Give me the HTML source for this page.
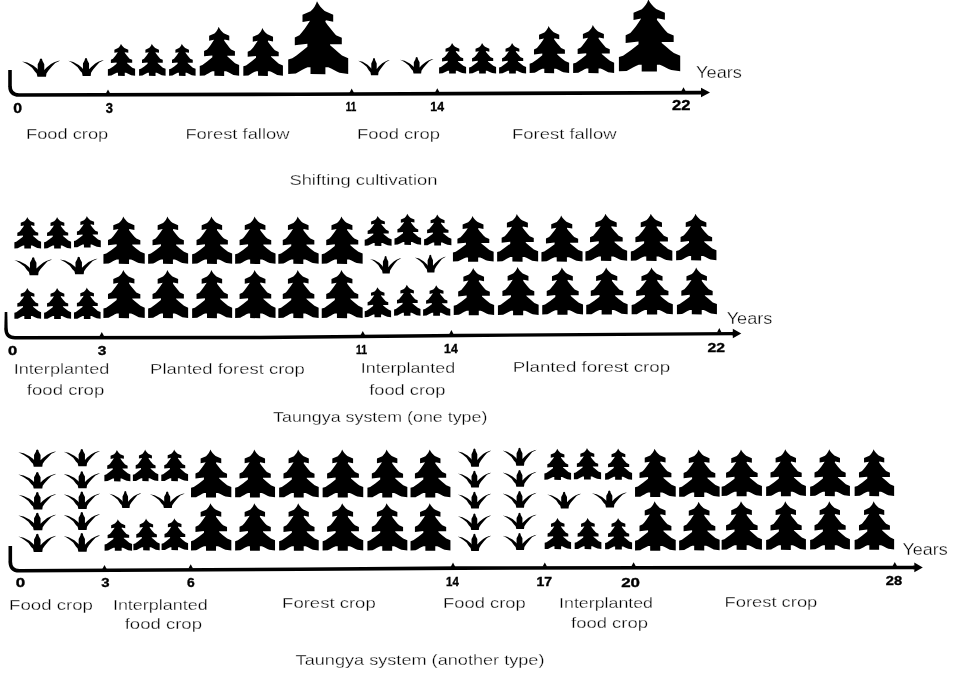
<!DOCTYPE html>
<html lang="en">
<head>
<meta charset="utf-8">
<title>Shifting cultivation and taungya systems</title>
<style>
html,body{margin:0;padding:0;background:#fff;}
body{width:953px;height:678px;overflow:hidden;}
svg{display:block;}
.t{font-family:"Liberation Sans",sans-serif;fill:#000;stroke:#fff;stroke-width:0.3px;}
.n{font-family:"Liberation Sans",sans-serif;font-weight:bold;fill:#000;stroke:#000;stroke-width:0.35px;}
</style>
</head>
<body>
<svg width="953" height="678" viewBox="0 0 953 678" fill="#000">
<rect x="0" y="0" width="953" height="678" fill="#fff"/>
<path transform="translate(41.00 58.80) scale(1.0243 1.0341)" d="M0,-0.3 L-1,0.2 L-1.4,2 L-3.2,5.2 L-3.2,10.6 L-3.9,9.5 L-7.6,6.5 L-13.4,3.6 L-18.5,2.5 L-16,3.7 L-12.9,5.5 L-8.7,8.7 L-6,12.4 L-4.2,14.2 L-3.5,17.3 L4.9,17.3 L5.3,14.2 L7.3,11.3 L10.6,7.5 L13.9,4 L17,2.6 L18.6,1.7 L16.5,2.1 L12.9,3.4 L9.7,5.1 L5.5,8.4 L3.2,10.8 L3.2,5.2 L1.4,2 L1,0.2 Z"/>
<path transform="translate(86.00 58.30) scale(0.9542 1.0227)" d="M0,-0.3 L-1,0.2 L-1.4,2 L-3.2,5.2 L-3.2,10.6 L-3.9,9.5 L-7.6,6.5 L-13.4,3.6 L-18.5,2.5 L-16,3.7 L-12.9,5.5 L-8.7,8.7 L-6,12.4 L-4.2,14.2 L-3.5,17.3 L4.9,17.3 L5.3,14.2 L7.3,11.3 L10.6,7.5 L13.9,4 L17,2.6 L18.6,1.7 L16.5,2.1 L12.9,3.4 L9.7,5.1 L5.5,8.4 L3.2,10.8 L3.2,5.2 L1.4,2 L1,0.2 Z"/>
<path transform="translate(121.40 43.70) scale(0.4533 0.4411)" d="M-1,0 C-2,3.5 -4,7 -7.4,10 L-15.5,13.5 L-15.5,20.8 L-8,19.4 C-11,24.5 -15,30 -18.6,34 L-23.2,36.2 L-23.2,44 L-10.6,42.6 L-10.6,45.4 C-15.5,49.5 -20.5,53.5 -25.7,57 L-29.8,58.2 L-29.8,72.6 L-22.2,72.3 C-18,70 -14,67.5 -10.4,66 L-7.5,66 L-7.5,72.8 L7.4,73 L7.4,66 L10.3,66 C14,67.5 18,70 21.5,71.5 L30.2,72.6 L30.2,57 L24,54.3 C19.5,50.5 15.5,47 12.1,44 L12.1,43 L23.8,43 L23.8,36.6 L18,34 C14.4,30 10.4,25 7.3,20.6 L7.9,19.1 L15.2,20.6 L15.2,13.5 L6.7,9.7 C3.5,7 0.5,3.5 -1,0 Z"/>
<path transform="translate(152.25 43.70) scale(0.4417 0.4411)" d="M-1,0 C-2,3.5 -4,7 -7.4,10 L-15.5,13.5 L-15.5,20.8 L-8,19.4 C-11,24.5 -15,30 -18.6,34 L-23.2,36.2 L-23.2,44 L-10.6,42.6 L-10.6,45.4 C-15.5,49.5 -20.5,53.5 -25.7,57 L-29.8,58.2 L-29.8,72.6 L-22.2,72.3 C-18,70 -14,67.5 -10.4,66 L-7.5,66 L-7.5,72.8 L7.4,73 L7.4,66 L10.3,66 C14,67.5 18,70 21.5,71.5 L30.2,72.6 L30.2,57 L24,54.3 C19.5,50.5 15.5,47 12.1,44 L12.1,43 L23.8,43 L23.8,36.6 L18,34 C14.4,30 10.4,25 7.3,20.6 L7.9,19.1 L15.2,20.6 L15.2,13.5 L6.7,9.7 C3.5,7 0.5,3.5 -1,0 Z"/>
<path transform="translate(182.25 43.70) scale(0.4417 0.4411)" d="M-1,0 C-2,3.5 -4,7 -7.4,10 L-15.5,13.5 L-15.5,20.8 L-8,19.4 C-11,24.5 -15,30 -18.6,34 L-23.2,36.2 L-23.2,44 L-10.6,42.6 L-10.6,45.4 C-15.5,49.5 -20.5,53.5 -25.7,57 L-29.8,58.2 L-29.8,72.6 L-22.2,72.3 C-18,70 -14,67.5 -10.4,66 L-7.5,66 L-7.5,72.8 L7.4,73 L7.4,66 L10.3,66 C14,67.5 18,70 21.5,71.5 L30.2,72.6 L30.2,57 L24,54.3 C19.5,50.5 15.5,47 12.1,44 L12.1,43 L23.8,43 L23.8,36.6 L18,34 C14.4,30 10.4,25 7.3,20.6 L7.9,19.1 L15.2,20.6 L15.2,13.5 L6.7,9.7 C3.5,7 0.5,3.5 -1,0 Z"/>
<path transform="translate(219.30 26.70) scale(0.6567 0.6740)" d="M-1,0 C-2,3.5 -4,7 -7.4,10 L-15.5,13.5 L-15.5,20.8 L-8,19.4 C-11,24.5 -15,30 -18.6,34 L-23.2,36.2 L-23.2,44 L-10.6,42.6 L-10.6,45.4 C-15.5,49.5 -20.5,53.5 -25.7,57 L-29.8,58.2 L-29.8,72.6 L-22.2,72.3 C-18,70 -14,67.5 -10.4,66 L-7.5,66 L-7.5,72.8 L7.4,73 L7.4,66 L10.3,66 C14,67.5 18,70 21.5,71.5 L30.2,72.6 L30.2,57 L24,54.3 C19.5,50.5 15.5,47 12.1,44 L12.1,43 L23.8,43 L23.8,36.6 L18,34 C14.4,30 10.4,25 7.3,20.6 L7.9,19.1 L15.2,20.6 L15.2,13.5 L6.7,9.7 C3.5,7 0.5,3.5 -1,0 Z"/>
<path transform="translate(263.00 28.00) scale(0.6600 0.6562)" d="M-1,0 C-2,3.5 -4,7 -7.4,10 L-15.5,13.5 L-15.5,20.8 L-8,19.4 C-11,24.5 -15,30 -18.6,34 L-23.2,36.2 L-23.2,44 L-10.6,42.6 L-10.6,45.4 C-15.5,49.5 -20.5,53.5 -25.7,57 L-29.8,58.2 L-29.8,72.6 L-22.2,72.3 C-18,70 -14,67.5 -10.4,66 L-7.5,66 L-7.5,72.8 L7.4,73 L7.4,66 L10.3,66 C14,67.5 18,70 21.5,71.5 L30.2,72.6 L30.2,57 L24,54.3 C19.5,50.5 15.5,47 12.1,44 L12.1,43 L23.8,43 L23.8,36.6 L18,34 C14.4,30 10.4,25 7.3,20.6 L7.9,19.1 L15.2,20.6 L15.2,13.5 L6.7,9.7 C3.5,7 0.5,3.5 -1,0 Z"/>
<path transform="translate(318.00 1.20) scale(1.0000 1.0014)" d="M-1,0 C-2,3.5 -4,7 -7.4,10 L-15.5,13.5 L-15.5,20.8 L-8,19.4 C-11,24.5 -15,30 -18.6,34 L-23.2,36.2 L-23.2,44 L-10.6,42.6 L-10.6,45.4 C-15.5,49.5 -20.5,53.5 -25.7,57 L-29.8,58.2 L-29.8,72.6 L-22.2,72.3 C-18,70 -14,67.5 -10.4,66 L-7.5,66 L-7.5,72.8 L7.4,73 L7.4,66 L10.3,66 C14,67.5 18,70 21.5,71.5 L30.2,72.6 L30.2,57 L24,54.3 C19.5,50.5 15.5,47 12.1,44 L12.1,43 L23.8,43 L23.8,36.6 L18,34 C14.4,30 10.4,25 7.3,20.6 L7.9,19.1 L15.2,20.6 L15.2,13.5 L6.7,9.7 C3.5,7 0.5,3.5 -1,0 Z"/>
<path transform="translate(374.00 58.30) scale(0.8491 0.9830)" d="M0,-0.3 L-1,0.2 L-1.4,2 L-3.2,5.2 L-3.2,10.6 L-3.9,9.5 L-7.6,6.5 L-13.4,3.6 L-18.5,2.5 L-16,3.7 L-12.9,5.5 L-8.7,8.7 L-6,12.4 L-4.2,14.2 L-3.5,17.3 L4.9,17.3 L5.3,14.2 L7.3,11.3 L10.6,7.5 L13.9,4 L17,2.6 L18.6,1.7 L16.5,2.1 L12.9,3.4 L9.7,5.1 L5.5,8.4 L3.2,10.8 L3.2,5.2 L1.4,2 L1,0.2 Z"/>
<path transform="translate(416.70 57.40) scale(0.9030 0.9318)" d="M0,-0.3 L-1,0.2 L-1.4,2 L-3.2,5.2 L-3.2,10.6 L-3.9,9.5 L-7.6,6.5 L-13.4,3.6 L-18.5,2.5 L-16,3.7 L-12.9,5.5 L-8.7,8.7 L-6,12.4 L-4.2,14.2 L-3.5,17.3 L4.9,17.3 L5.3,14.2 L7.3,11.3 L10.6,7.5 L13.9,4 L17,2.6 L18.6,1.7 L16.5,2.1 L12.9,3.4 L9.7,5.1 L5.5,8.4 L3.2,10.8 L3.2,5.2 L1.4,2 L1,0.2 Z"/>
<path transform="translate(452.50 43.00) scale(0.4500 0.4192)" d="M-1,0 C-2,3.5 -4,7 -7.4,10 L-15.5,13.5 L-15.5,20.8 L-8,19.4 C-11,24.5 -15,30 -18.6,34 L-23.2,36.2 L-23.2,44 L-10.6,42.6 L-10.6,45.4 C-15.5,49.5 -20.5,53.5 -25.7,57 L-29.8,58.2 L-29.8,72.6 L-22.2,72.3 C-18,70 -14,67.5 -10.4,66 L-7.5,66 L-7.5,72.8 L7.4,73 L7.4,66 L10.3,66 C14,67.5 18,70 21.5,71.5 L30.2,72.6 L30.2,57 L24,54.3 C19.5,50.5 15.5,47 12.1,44 L12.1,43 L23.8,43 L23.8,36.6 L18,34 C14.4,30 10.4,25 7.3,20.6 L7.9,19.1 L15.2,20.6 L15.2,13.5 L6.7,9.7 C3.5,7 0.5,3.5 -1,0 Z"/>
<path transform="translate(482.50 43.00) scale(0.4500 0.4192)" d="M-1,0 C-2,3.5 -4,7 -7.4,10 L-15.5,13.5 L-15.5,20.8 L-8,19.4 C-11,24.5 -15,30 -18.6,34 L-23.2,36.2 L-23.2,44 L-10.6,42.6 L-10.6,45.4 C-15.5,49.5 -20.5,53.5 -25.7,57 L-29.8,58.2 L-29.8,72.6 L-22.2,72.3 C-18,70 -14,67.5 -10.4,66 L-7.5,66 L-7.5,72.8 L7.4,73 L7.4,66 L10.3,66 C14,67.5 18,70 21.5,71.5 L30.2,72.6 L30.2,57 L24,54.3 C19.5,50.5 15.5,47 12.1,44 L12.1,43 L23.8,43 L23.8,36.6 L18,34 C14.4,30 10.4,25 7.3,20.6 L7.9,19.1 L15.2,20.6 L15.2,13.5 L6.7,9.7 C3.5,7 0.5,3.5 -1,0 Z"/>
<path transform="translate(512.50 43.00) scale(0.4500 0.4192)" d="M-1,0 C-2,3.5 -4,7 -7.4,10 L-15.5,13.5 L-15.5,20.8 L-8,19.4 C-11,24.5 -15,30 -18.6,34 L-23.2,36.2 L-23.2,44 L-10.6,42.6 L-10.6,45.4 C-15.5,49.5 -20.5,53.5 -25.7,57 L-29.8,58.2 L-29.8,72.6 L-22.2,72.3 C-18,70 -14,67.5 -10.4,66 L-7.5,66 L-7.5,72.8 L7.4,73 L7.4,66 L10.3,66 C14,67.5 18,70 21.5,71.5 L30.2,72.6 L30.2,57 L24,54.3 C19.5,50.5 15.5,47 12.1,44 L12.1,43 L23.8,43 L23.8,36.6 L18,34 C14.4,30 10.4,25 7.3,20.6 L7.9,19.1 L15.2,20.6 L15.2,13.5 L6.7,9.7 C3.5,7 0.5,3.5 -1,0 Z"/>
<path transform="translate(549.25 26.00) scale(0.6583 0.6466)" d="M-1,0 C-2,3.5 -4,7 -7.4,10 L-15.5,13.5 L-15.5,20.8 L-8,19.4 C-11,24.5 -15,30 -18.6,34 L-23.2,36.2 L-23.2,44 L-10.6,42.6 L-10.6,45.4 C-15.5,49.5 -20.5,53.5 -25.7,57 L-29.8,58.2 L-29.8,72.6 L-22.2,72.3 C-18,70 -14,67.5 -10.4,66 L-7.5,66 L-7.5,72.8 L7.4,73 L7.4,66 L10.3,66 C14,67.5 18,70 21.5,71.5 L30.2,72.6 L30.2,57 L24,54.3 C19.5,50.5 15.5,47 12.1,44 L12.1,43 L23.8,43 L23.8,36.6 L18,34 C14.4,30 10.4,25 7.3,20.6 L7.9,19.1 L15.2,20.6 L15.2,13.5 L6.7,9.7 C3.5,7 0.5,3.5 -1,0 Z"/>
<path transform="translate(593.50 25.00) scale(0.6833 0.6603)" d="M-1,0 C-2,3.5 -4,7 -7.4,10 L-15.5,13.5 L-15.5,20.8 L-8,19.4 C-11,24.5 -15,30 -18.6,34 L-23.2,36.2 L-23.2,44 L-10.6,42.6 L-10.6,45.4 C-15.5,49.5 -20.5,53.5 -25.7,57 L-29.8,58.2 L-29.8,72.6 L-22.2,72.3 C-18,70 -14,67.5 -10.4,66 L-7.5,66 L-7.5,72.8 L7.4,73 L7.4,66 L10.3,66 C14,67.5 18,70 21.5,71.5 L30.2,72.6 L30.2,57 L24,54.3 C19.5,50.5 15.5,47 12.1,44 L12.1,43 L23.8,43 L23.8,36.6 L18,34 C14.4,30 10.4,25 7.3,20.6 L7.9,19.1 L15.2,20.6 L15.2,13.5 L6.7,9.7 C3.5,7 0.5,3.5 -1,0 Z"/>
<path transform="translate(649.35 -0.60) scale(1.0217 0.9890)" d="M-1,0 C-2,3.5 -4,7 -7.4,10 L-15.5,13.5 L-15.5,20.8 L-8,19.4 C-11,24.5 -15,30 -18.6,34 L-23.2,36.2 L-23.2,44 L-10.6,42.6 L-10.6,45.4 C-15.5,49.5 -20.5,53.5 -25.7,57 L-29.8,58.2 L-29.8,72.6 L-22.2,72.3 C-18,70 -14,67.5 -10.4,66 L-7.5,66 L-7.5,72.8 L7.4,73 L7.4,66 L10.3,66 C14,67.5 18,70 21.5,71.5 L30.2,72.6 L30.2,57 L24,54.3 C19.5,50.5 15.5,47 12.1,44 L12.1,43 L23.8,43 L23.8,36.6 L18,34 C14.4,30 10.4,25 7.3,20.6 L7.9,19.1 L15.2,20.6 L15.2,13.5 L6.7,9.7 C3.5,7 0.5,3.5 -1,0 Z"/>
<path d="M8.20,70.0 L11.80,70.0 L11.80,86.5 L8.20,86.5 Z"/>
<path fill="none" stroke="#000" stroke-width="3.6" stroke-linejoin="round" d="M10.0,86.0 Q10.0,95.0 19.0,95.0 L19.0,95.0 L300.0,94.2 L702.0,92.6"/>
<path d="M710.0,92.5 L701.0,87.7 L701.0,97.3 Z"/>
<path fill="none" stroke="#000" stroke-width="3.6" d="M701.0,92.6 L702.0,92.5"/>
<path d="M105.7,93.8 L108.0,89.5 L110.3,93.8 Z"/>
<path d="M349.4,92.9 L351.7,88.6 L354.0,92.9 Z"/>
<path d="M435.0,92.6 L437.3,88.3 L439.6,92.6 Z"/>
<path d="M681.2,91.6 L683.5,87.3 L685.8,91.6 Z"/>
<text class="n" x="13.3" y="113.3" font-size="14" textLength="8.8" lengthAdjust="spacingAndGlyphs">0</text>
<text class="n" x="105.8" y="113.2" font-size="14" textLength="7.2" lengthAdjust="spacingAndGlyphs">3</text>
<text class="n" x="345.8" y="111.4" font-size="12.5" textLength="10.5" lengthAdjust="spacingAndGlyphs">11</text>
<text class="n" x="430.3" y="111.4" font-size="13" textLength="13.7" lengthAdjust="spacingAndGlyphs">14</text>
<text class="n" x="672.0" y="109.8" font-size="14" textLength="18.4" lengthAdjust="spacingAndGlyphs">22</text>
<text class="t" x="26.0" y="138.6" font-size="15" textLength="82.2" lengthAdjust="spacingAndGlyphs">Food crop</text>
<text class="t" x="185.4" y="139.0" font-size="15" textLength="104.1" lengthAdjust="spacingAndGlyphs">Forest fallow</text>
<text class="t" x="357.1" y="139.0" font-size="15" textLength="82.8" lengthAdjust="spacingAndGlyphs">Food crop</text>
<text class="t" x="512.1" y="138.7" font-size="15" textLength="104.4" lengthAdjust="spacingAndGlyphs">Forest fallow</text>
<text class="t" x="289.4" y="185.0" font-size="15" textLength="148.1" lengthAdjust="spacingAndGlyphs">Shifting cultivation</text>
<text class="t" x="696.1" y="78.0" font-size="16" textLength="45.8" lengthAdjust="spacingAndGlyphs">Years</text>
<path transform="translate(27.65 217.00) scale(0.4450 0.4329)" d="M-1,0 C-2,3.5 -4,7 -7.4,10 L-15.5,13.5 L-15.5,20.8 L-8,19.4 C-11,24.5 -15,30 -18.6,34 L-23.2,36.2 L-23.2,44 L-10.6,42.6 L-10.6,45.4 C-15.5,49.5 -20.5,53.5 -25.7,57 L-29.8,58.2 L-29.8,72.6 L-22.2,72.3 C-18,70 -14,67.5 -10.4,66 L-7.5,66 L-7.5,72.8 L7.4,73 L7.4,66 L10.3,66 C14,67.5 18,70 21.5,71.5 L30.2,72.6 L30.2,57 L24,54.3 C19.5,50.5 15.5,47 12.1,44 L12.1,43 L23.8,43 L23.8,36.6 L18,34 C14.4,30 10.4,25 7.3,20.6 L7.9,19.1 L15.2,20.6 L15.2,13.5 L6.7,9.7 C3.5,7 0.5,3.5 -1,0 Z"/>
<path transform="translate(57.50 217.00) scale(0.4500 0.4329)" d="M-1,0 C-2,3.5 -4,7 -7.4,10 L-15.5,13.5 L-15.5,20.8 L-8,19.4 C-11,24.5 -15,30 -18.6,34 L-23.2,36.2 L-23.2,44 L-10.6,42.6 L-10.6,45.4 C-15.5,49.5 -20.5,53.5 -25.7,57 L-29.8,58.2 L-29.8,72.6 L-22.2,72.3 C-18,70 -14,67.5 -10.4,66 L-7.5,66 L-7.5,72.8 L7.4,73 L7.4,66 L10.3,66 C14,67.5 18,70 21.5,71.5 L30.2,72.6 L30.2,57 L24,54.3 C19.5,50.5 15.5,47 12.1,44 L12.1,43 L23.8,43 L23.8,36.6 L18,34 C14.4,30 10.4,25 7.3,20.6 L7.9,19.1 L15.2,20.6 L15.2,13.5 L6.7,9.7 C3.5,7 0.5,3.5 -1,0 Z"/>
<path transform="translate(87.30 216.00) scale(0.4467 0.4315)" d="M-1,0 C-2,3.5 -4,7 -7.4,10 L-15.5,13.5 L-15.5,20.8 L-8,19.4 C-11,24.5 -15,30 -18.6,34 L-23.2,36.2 L-23.2,44 L-10.6,42.6 L-10.6,45.4 C-15.5,49.5 -20.5,53.5 -25.7,57 L-29.8,58.2 L-29.8,72.6 L-22.2,72.3 C-18,70 -14,67.5 -10.4,66 L-7.5,66 L-7.5,72.8 L7.4,73 L7.4,66 L10.3,66 C14,67.5 18,70 21.5,71.5 L30.2,72.6 L30.2,57 L24,54.3 C19.5,50.5 15.5,47 12.1,44 L12.1,43 L23.8,43 L23.8,36.6 L18,34 C14.4,30 10.4,25 7.3,20.6 L7.9,19.1 L15.2,20.6 L15.2,13.5 L6.7,9.7 C3.5,7 0.5,3.5 -1,0 Z"/>
<path transform="translate(27.65 287.90) scale(0.4450 0.4260)" d="M-1,0 C-2,3.5 -4,7 -7.4,10 L-15.5,13.5 L-15.5,20.8 L-8,19.4 C-11,24.5 -15,30 -18.6,34 L-23.2,36.2 L-23.2,44 L-10.6,42.6 L-10.6,45.4 C-15.5,49.5 -20.5,53.5 -25.7,57 L-29.8,58.2 L-29.8,72.6 L-22.2,72.3 C-18,70 -14,67.5 -10.4,66 L-7.5,66 L-7.5,72.8 L7.4,73 L7.4,66 L10.3,66 C14,67.5 18,70 21.5,71.5 L30.2,72.6 L30.2,57 L24,54.3 C19.5,50.5 15.5,47 12.1,44 L12.1,43 L23.8,43 L23.8,36.6 L18,34 C14.4,30 10.4,25 7.3,20.6 L7.9,19.1 L15.2,20.6 L15.2,13.5 L6.7,9.7 C3.5,7 0.5,3.5 -1,0 Z"/>
<path transform="translate(57.50 287.90) scale(0.4500 0.4260)" d="M-1,0 C-2,3.5 -4,7 -7.4,10 L-15.5,13.5 L-15.5,20.8 L-8,19.4 C-11,24.5 -15,30 -18.6,34 L-23.2,36.2 L-23.2,44 L-10.6,42.6 L-10.6,45.4 C-15.5,49.5 -20.5,53.5 -25.7,57 L-29.8,58.2 L-29.8,72.6 L-22.2,72.3 C-18,70 -14,67.5 -10.4,66 L-7.5,66 L-7.5,72.8 L7.4,73 L7.4,66 L10.3,66 C14,67.5 18,70 21.5,71.5 L30.2,72.6 L30.2,57 L24,54.3 C19.5,50.5 15.5,47 12.1,44 L12.1,43 L23.8,43 L23.8,36.6 L18,34 C14.4,30 10.4,25 7.3,20.6 L7.9,19.1 L15.2,20.6 L15.2,13.5 L6.7,9.7 C3.5,7 0.5,3.5 -1,0 Z"/>
<path transform="translate(87.20 287.50) scale(0.4433 0.4315)" d="M-1,0 C-2,3.5 -4,7 -7.4,10 L-15.5,13.5 L-15.5,20.8 L-8,19.4 C-11,24.5 -15,30 -18.6,34 L-23.2,36.2 L-23.2,44 L-10.6,42.6 L-10.6,45.4 C-15.5,49.5 -20.5,53.5 -25.7,57 L-29.8,58.2 L-29.8,72.6 L-22.2,72.3 C-18,70 -14,67.5 -10.4,66 L-7.5,66 L-7.5,72.8 L7.4,73 L7.4,66 L10.3,66 C14,67.5 18,70 21.5,71.5 L30.2,72.6 L30.2,57 L24,54.3 C19.5,50.5 15.5,47 12.1,44 L12.1,43 L23.8,43 L23.8,36.6 L18,34 C14.4,30 10.4,25 7.3,20.6 L7.9,19.1 L15.2,20.6 L15.2,13.5 L6.7,9.7 C3.5,7 0.5,3.5 -1,0 Z"/>
<path transform="translate(33.20 257.50) scale(1.0162 1.0284)" d="M0,-0.3 L-1,0.2 L-1.4,2 L-3.2,5.2 L-3.2,10.6 L-3.9,9.5 L-7.6,6.5 L-13.4,3.6 L-18.5,2.5 L-16,3.7 L-12.9,5.5 L-8.7,8.7 L-6,12.4 L-4.2,14.2 L-3.5,17.3 L4.9,17.3 L5.3,14.2 L7.3,11.3 L10.6,7.5 L13.9,4 L17,2.6 L18.6,1.7 L16.5,2.1 L12.9,3.4 L9.7,5.1 L5.5,8.4 L3.2,10.8 L3.2,5.2 L1.4,2 L1,0.2 Z"/>
<path transform="translate(78.70 257.00) scale(1.0135 1.0000)" d="M0,-0.3 L-1,0.2 L-1.4,2 L-3.2,5.2 L-3.2,10.6 L-3.9,9.5 L-7.6,6.5 L-13.4,3.6 L-18.5,2.5 L-16,3.7 L-12.9,5.5 L-8.7,8.7 L-6,12.4 L-4.2,14.2 L-3.5,17.3 L4.9,17.3 L5.3,14.2 L7.3,11.3 L10.6,7.5 L13.9,4 L17,2.6 L18.6,1.7 L16.5,2.1 L12.9,3.4 L9.7,5.1 L5.5,8.4 L3.2,10.8 L3.2,5.2 L1.4,2 L1,0.2 Z"/>
<path transform="translate(123.95 216.50) scale(0.6883 0.6507)" d="M-1,0 C-2,3.5 -4,7 -7.4,10 L-15.5,13.5 L-15.5,20.8 L-8,19.4 C-11,24.5 -15,30 -18.6,34 L-23.2,36.2 L-23.2,44 L-10.6,42.6 L-10.6,45.4 C-15.5,49.5 -20.5,53.5 -25.7,57 L-29.8,58.2 L-29.8,72.6 L-22.2,72.3 C-18,70 -14,67.5 -10.4,66 L-7.5,66 L-7.5,72.8 L7.4,73 L7.4,66 L10.3,66 C14,67.5 18,70 21.5,71.5 L30.2,72.6 L30.2,57 L24,54.3 C19.5,50.5 15.5,47 12.1,44 L12.1,43 L23.8,43 L23.8,36.6 L18,34 C14.4,30 10.4,25 7.3,20.6 L7.9,19.1 L15.2,20.6 L15.2,13.5 L6.7,9.7 C3.5,7 0.5,3.5 -1,0 Z"/>
<path transform="translate(123.95 270.00) scale(0.6883 0.6603)" d="M-1,0 C-2,3.5 -4,7 -7.4,10 L-15.5,13.5 L-15.5,20.8 L-8,19.4 C-11,24.5 -15,30 -18.6,34 L-23.2,36.2 L-23.2,44 L-10.6,42.6 L-10.6,45.4 C-15.5,49.5 -20.5,53.5 -25.7,57 L-29.8,58.2 L-29.8,72.6 L-22.2,72.3 C-18,70 -14,67.5 -10.4,66 L-7.5,66 L-7.5,72.8 L7.4,73 L7.4,66 L10.3,66 C14,67.5 18,70 21.5,71.5 L30.2,72.6 L30.2,57 L24,54.3 C19.5,50.5 15.5,47 12.1,44 L12.1,43 L23.8,43 L23.8,36.6 L18,34 C14.4,30 10.4,25 7.3,20.6 L7.9,19.1 L15.2,20.6 L15.2,13.5 L6.7,9.7 C3.5,7 0.5,3.5 -1,0 Z"/>
<path transform="translate(168.00 216.50) scale(0.6667 0.6507)" d="M-1,0 C-2,3.5 -4,7 -7.4,10 L-15.5,13.5 L-15.5,20.8 L-8,19.4 C-11,24.5 -15,30 -18.6,34 L-23.2,36.2 L-23.2,44 L-10.6,42.6 L-10.6,45.4 C-15.5,49.5 -20.5,53.5 -25.7,57 L-29.8,58.2 L-29.8,72.6 L-22.2,72.3 C-18,70 -14,67.5 -10.4,66 L-7.5,66 L-7.5,72.8 L7.4,73 L7.4,66 L10.3,66 C14,67.5 18,70 21.5,71.5 L30.2,72.6 L30.2,57 L24,54.3 C19.5,50.5 15.5,47 12.1,44 L12.1,43 L23.8,43 L23.8,36.6 L18,34 C14.4,30 10.4,25 7.3,20.6 L7.9,19.1 L15.2,20.6 L15.2,13.5 L6.7,9.7 C3.5,7 0.5,3.5 -1,0 Z"/>
<path transform="translate(168.00 270.00) scale(0.6667 0.6603)" d="M-1,0 C-2,3.5 -4,7 -7.4,10 L-15.5,13.5 L-15.5,20.8 L-8,19.4 C-11,24.5 -15,30 -18.6,34 L-23.2,36.2 L-23.2,44 L-10.6,42.6 L-10.6,45.4 C-15.5,49.5 -20.5,53.5 -25.7,57 L-29.8,58.2 L-29.8,72.6 L-22.2,72.3 C-18,70 -14,67.5 -10.4,66 L-7.5,66 L-7.5,72.8 L7.4,73 L7.4,66 L10.3,66 C14,67.5 18,70 21.5,71.5 L30.2,72.6 L30.2,57 L24,54.3 C19.5,50.5 15.5,47 12.1,44 L12.1,43 L23.8,43 L23.8,36.6 L18,34 C14.4,30 10.4,25 7.3,20.6 L7.9,19.1 L15.2,20.6 L15.2,13.5 L6.7,9.7 C3.5,7 0.5,3.5 -1,0 Z"/>
<path transform="translate(212.00 216.50) scale(0.6667 0.6507)" d="M-1,0 C-2,3.5 -4,7 -7.4,10 L-15.5,13.5 L-15.5,20.8 L-8,19.4 C-11,24.5 -15,30 -18.6,34 L-23.2,36.2 L-23.2,44 L-10.6,42.6 L-10.6,45.4 C-15.5,49.5 -20.5,53.5 -25.7,57 L-29.8,58.2 L-29.8,72.6 L-22.2,72.3 C-18,70 -14,67.5 -10.4,66 L-7.5,66 L-7.5,72.8 L7.4,73 L7.4,66 L10.3,66 C14,67.5 18,70 21.5,71.5 L30.2,72.6 L30.2,57 L24,54.3 C19.5,50.5 15.5,47 12.1,44 L12.1,43 L23.8,43 L23.8,36.6 L18,34 C14.4,30 10.4,25 7.3,20.6 L7.9,19.1 L15.2,20.6 L15.2,13.5 L6.7,9.7 C3.5,7 0.5,3.5 -1,0 Z"/>
<path transform="translate(212.00 270.00) scale(0.6667 0.6603)" d="M-1,0 C-2,3.5 -4,7 -7.4,10 L-15.5,13.5 L-15.5,20.8 L-8,19.4 C-11,24.5 -15,30 -18.6,34 L-23.2,36.2 L-23.2,44 L-10.6,42.6 L-10.6,45.4 C-15.5,49.5 -20.5,53.5 -25.7,57 L-29.8,58.2 L-29.8,72.6 L-22.2,72.3 C-18,70 -14,67.5 -10.4,66 L-7.5,66 L-7.5,72.8 L7.4,73 L7.4,66 L10.3,66 C14,67.5 18,70 21.5,71.5 L30.2,72.6 L30.2,57 L24,54.3 C19.5,50.5 15.5,47 12.1,44 L12.1,43 L23.8,43 L23.8,36.6 L18,34 C14.4,30 10.4,25 7.3,20.6 L7.9,19.1 L15.2,20.6 L15.2,13.5 L6.7,9.7 C3.5,7 0.5,3.5 -1,0 Z"/>
<path transform="translate(255.20 216.50) scale(0.6733 0.6507)" d="M-1,0 C-2,3.5 -4,7 -7.4,10 L-15.5,13.5 L-15.5,20.8 L-8,19.4 C-11,24.5 -15,30 -18.6,34 L-23.2,36.2 L-23.2,44 L-10.6,42.6 L-10.6,45.4 C-15.5,49.5 -20.5,53.5 -25.7,57 L-29.8,58.2 L-29.8,72.6 L-22.2,72.3 C-18,70 -14,67.5 -10.4,66 L-7.5,66 L-7.5,72.8 L7.4,73 L7.4,66 L10.3,66 C14,67.5 18,70 21.5,71.5 L30.2,72.6 L30.2,57 L24,54.3 C19.5,50.5 15.5,47 12.1,44 L12.1,43 L23.8,43 L23.8,36.6 L18,34 C14.4,30 10.4,25 7.3,20.6 L7.9,19.1 L15.2,20.6 L15.2,13.5 L6.7,9.7 C3.5,7 0.5,3.5 -1,0 Z"/>
<path transform="translate(255.20 270.00) scale(0.6733 0.6603)" d="M-1,0 C-2,3.5 -4,7 -7.4,10 L-15.5,13.5 L-15.5,20.8 L-8,19.4 C-11,24.5 -15,30 -18.6,34 L-23.2,36.2 L-23.2,44 L-10.6,42.6 L-10.6,45.4 C-15.5,49.5 -20.5,53.5 -25.7,57 L-29.8,58.2 L-29.8,72.6 L-22.2,72.3 C-18,70 -14,67.5 -10.4,66 L-7.5,66 L-7.5,72.8 L7.4,73 L7.4,66 L10.3,66 C14,67.5 18,70 21.5,71.5 L30.2,72.6 L30.2,57 L24,54.3 C19.5,50.5 15.5,47 12.1,44 L12.1,43 L23.8,43 L23.8,36.6 L18,34 C14.4,30 10.4,25 7.3,20.6 L7.9,19.1 L15.2,20.6 L15.2,13.5 L6.7,9.7 C3.5,7 0.5,3.5 -1,0 Z"/>
<path transform="translate(298.35 216.50) scale(0.6717 0.6507)" d="M-1,0 C-2,3.5 -4,7 -7.4,10 L-15.5,13.5 L-15.5,20.8 L-8,19.4 C-11,24.5 -15,30 -18.6,34 L-23.2,36.2 L-23.2,44 L-10.6,42.6 L-10.6,45.4 C-15.5,49.5 -20.5,53.5 -25.7,57 L-29.8,58.2 L-29.8,72.6 L-22.2,72.3 C-18,70 -14,67.5 -10.4,66 L-7.5,66 L-7.5,72.8 L7.4,73 L7.4,66 L10.3,66 C14,67.5 18,70 21.5,71.5 L30.2,72.6 L30.2,57 L24,54.3 C19.5,50.5 15.5,47 12.1,44 L12.1,43 L23.8,43 L23.8,36.6 L18,34 C14.4,30 10.4,25 7.3,20.6 L7.9,19.1 L15.2,20.6 L15.2,13.5 L6.7,9.7 C3.5,7 0.5,3.5 -1,0 Z"/>
<path transform="translate(298.35 270.00) scale(0.6717 0.6603)" d="M-1,0 C-2,3.5 -4,7 -7.4,10 L-15.5,13.5 L-15.5,20.8 L-8,19.4 C-11,24.5 -15,30 -18.6,34 L-23.2,36.2 L-23.2,44 L-10.6,42.6 L-10.6,45.4 C-15.5,49.5 -20.5,53.5 -25.7,57 L-29.8,58.2 L-29.8,72.6 L-22.2,72.3 C-18,70 -14,67.5 -10.4,66 L-7.5,66 L-7.5,72.8 L7.4,73 L7.4,66 L10.3,66 C14,67.5 18,70 21.5,71.5 L30.2,72.6 L30.2,57 L24,54.3 C19.5,50.5 15.5,47 12.1,44 L12.1,43 L23.8,43 L23.8,36.6 L18,34 C14.4,30 10.4,25 7.3,20.6 L7.9,19.1 L15.2,20.6 L15.2,13.5 L6.7,9.7 C3.5,7 0.5,3.5 -1,0 Z"/>
<path transform="translate(342.05 216.50) scale(0.6817 0.6507)" d="M-1,0 C-2,3.5 -4,7 -7.4,10 L-15.5,13.5 L-15.5,20.8 L-8,19.4 C-11,24.5 -15,30 -18.6,34 L-23.2,36.2 L-23.2,44 L-10.6,42.6 L-10.6,45.4 C-15.5,49.5 -20.5,53.5 -25.7,57 L-29.8,58.2 L-29.8,72.6 L-22.2,72.3 C-18,70 -14,67.5 -10.4,66 L-7.5,66 L-7.5,72.8 L7.4,73 L7.4,66 L10.3,66 C14,67.5 18,70 21.5,71.5 L30.2,72.6 L30.2,57 L24,54.3 C19.5,50.5 15.5,47 12.1,44 L12.1,43 L23.8,43 L23.8,36.6 L18,34 C14.4,30 10.4,25 7.3,20.6 L7.9,19.1 L15.2,20.6 L15.2,13.5 L6.7,9.7 C3.5,7 0.5,3.5 -1,0 Z"/>
<path transform="translate(342.05 270.00) scale(0.6817 0.6603)" d="M-1,0 C-2,3.5 -4,7 -7.4,10 L-15.5,13.5 L-15.5,20.8 L-8,19.4 C-11,24.5 -15,30 -18.6,34 L-23.2,36.2 L-23.2,44 L-10.6,42.6 L-10.6,45.4 C-15.5,49.5 -20.5,53.5 -25.7,57 L-29.8,58.2 L-29.8,72.6 L-22.2,72.3 C-18,70 -14,67.5 -10.4,66 L-7.5,66 L-7.5,72.8 L7.4,73 L7.4,66 L10.3,66 C14,67.5 18,70 21.5,71.5 L30.2,72.6 L30.2,57 L24,54.3 C19.5,50.5 15.5,47 12.1,44 L12.1,43 L23.8,43 L23.8,36.6 L18,34 C14.4,30 10.4,25 7.3,20.6 L7.9,19.1 L15.2,20.6 L15.2,13.5 L6.7,9.7 C3.5,7 0.5,3.5 -1,0 Z"/>
<path transform="translate(378.05 215.90) scale(0.4483 0.4110)" d="M-1,0 C-2,3.5 -4,7 -7.4,10 L-15.5,13.5 L-15.5,20.8 L-8,19.4 C-11,24.5 -15,30 -18.6,34 L-23.2,36.2 L-23.2,44 L-10.6,42.6 L-10.6,45.4 C-15.5,49.5 -20.5,53.5 -25.7,57 L-29.8,58.2 L-29.8,72.6 L-22.2,72.3 C-18,70 -14,67.5 -10.4,66 L-7.5,66 L-7.5,72.8 L7.4,73 L7.4,66 L10.3,66 C14,67.5 18,70 21.5,71.5 L30.2,72.6 L30.2,57 L24,54.3 C19.5,50.5 15.5,47 12.1,44 L12.1,43 L23.8,43 L23.8,36.6 L18,34 C14.4,30 10.4,25 7.3,20.6 L7.9,19.1 L15.2,20.6 L15.2,13.5 L6.7,9.7 C3.5,7 0.5,3.5 -1,0 Z"/>
<path transform="translate(407.70 213.80) scale(0.4433 0.4260)" d="M-1,0 C-2,3.5 -4,7 -7.4,10 L-15.5,13.5 L-15.5,20.8 L-8,19.4 C-11,24.5 -15,30 -18.6,34 L-23.2,36.2 L-23.2,44 L-10.6,42.6 L-10.6,45.4 C-15.5,49.5 -20.5,53.5 -25.7,57 L-29.8,58.2 L-29.8,72.6 L-22.2,72.3 C-18,70 -14,67.5 -10.4,66 L-7.5,66 L-7.5,72.8 L7.4,73 L7.4,66 L10.3,66 C14,67.5 18,70 21.5,71.5 L30.2,72.6 L30.2,57 L24,54.3 C19.5,50.5 15.5,47 12.1,44 L12.1,43 L23.8,43 L23.8,36.6 L18,34 C14.4,30 10.4,25 7.3,20.6 L7.9,19.1 L15.2,20.6 L15.2,13.5 L6.7,9.7 C3.5,7 0.5,3.5 -1,0 Z"/>
<path transform="translate(437.65 214.40) scale(0.4550 0.4260)" d="M-1,0 C-2,3.5 -4,7 -7.4,10 L-15.5,13.5 L-15.5,20.8 L-8,19.4 C-11,24.5 -15,30 -18.6,34 L-23.2,36.2 L-23.2,44 L-10.6,42.6 L-10.6,45.4 C-15.5,49.5 -20.5,53.5 -25.7,57 L-29.8,58.2 L-29.8,72.6 L-22.2,72.3 C-18,70 -14,67.5 -10.4,66 L-7.5,66 L-7.5,72.8 L7.4,73 L7.4,66 L10.3,66 C14,67.5 18,70 21.5,71.5 L30.2,72.6 L30.2,57 L24,54.3 C19.5,50.5 15.5,47 12.1,44 L12.1,43 L23.8,43 L23.8,36.6 L18,34 C14.4,30 10.4,25 7.3,20.6 L7.9,19.1 L15.2,20.6 L15.2,13.5 L6.7,9.7 C3.5,7 0.5,3.5 -1,0 Z"/>
<path transform="translate(377.80 287.30) scale(0.4400 0.4110)" d="M-1,0 C-2,3.5 -4,7 -7.4,10 L-15.5,13.5 L-15.5,20.8 L-8,19.4 C-11,24.5 -15,30 -18.6,34 L-23.2,36.2 L-23.2,44 L-10.6,42.6 L-10.6,45.4 C-15.5,49.5 -20.5,53.5 -25.7,57 L-29.8,58.2 L-29.8,72.6 L-22.2,72.3 C-18,70 -14,67.5 -10.4,66 L-7.5,66 L-7.5,72.8 L7.4,73 L7.4,66 L10.3,66 C14,67.5 18,70 21.5,71.5 L30.2,72.6 L30.2,57 L24,54.3 C19.5,50.5 15.5,47 12.1,44 L12.1,43 L23.8,43 L23.8,36.6 L18,34 C14.4,30 10.4,25 7.3,20.6 L7.9,19.1 L15.2,20.6 L15.2,13.5 L6.7,9.7 C3.5,7 0.5,3.5 -1,0 Z"/>
<path transform="translate(407.20 284.70) scale(0.4400 0.4260)" d="M-1,0 C-2,3.5 -4,7 -7.4,10 L-15.5,13.5 L-15.5,20.8 L-8,19.4 C-11,24.5 -15,30 -18.6,34 L-23.2,36.2 L-23.2,44 L-10.6,42.6 L-10.6,45.4 C-15.5,49.5 -20.5,53.5 -25.7,57 L-29.8,58.2 L-29.8,72.6 L-22.2,72.3 C-18,70 -14,67.5 -10.4,66 L-7.5,66 L-7.5,72.8 L7.4,73 L7.4,66 L10.3,66 C14,67.5 18,70 21.5,71.5 L30.2,72.6 L30.2,57 L24,54.3 C19.5,50.5 15.5,47 12.1,44 L12.1,43 L23.8,43 L23.8,36.6 L18,34 C14.4,30 10.4,25 7.3,20.6 L7.9,19.1 L15.2,20.6 L15.2,13.5 L6.7,9.7 C3.5,7 0.5,3.5 -1,0 Z"/>
<path transform="translate(436.60 285.20) scale(0.4533 0.4192)" d="M-1,0 C-2,3.5 -4,7 -7.4,10 L-15.5,13.5 L-15.5,20.8 L-8,19.4 C-11,24.5 -15,30 -18.6,34 L-23.2,36.2 L-23.2,44 L-10.6,42.6 L-10.6,45.4 C-15.5,49.5 -20.5,53.5 -25.7,57 L-29.8,58.2 L-29.8,72.6 L-22.2,72.3 C-18,70 -14,67.5 -10.4,66 L-7.5,66 L-7.5,72.8 L7.4,73 L7.4,66 L10.3,66 C14,67.5 18,70 21.5,71.5 L30.2,72.6 L30.2,57 L24,54.3 C19.5,50.5 15.5,47 12.1,44 L12.1,43 L23.8,43 L23.8,36.6 L18,34 C14.4,30 10.4,25 7.3,20.6 L7.9,19.1 L15.2,20.6 L15.2,13.5 L6.7,9.7 C3.5,7 0.5,3.5 -1,0 Z"/>
<path transform="translate(385.60 256.40) scale(0.8410 0.9943)" d="M0,-0.3 L-1,0.2 L-1.4,2 L-3.2,5.2 L-3.2,10.6 L-3.9,9.5 L-7.6,6.5 L-13.4,3.6 L-18.5,2.5 L-16,3.7 L-12.9,5.5 L-8.7,8.7 L-6,12.4 L-4.2,14.2 L-3.5,17.3 L4.9,17.3 L5.3,14.2 L7.3,11.3 L10.6,7.5 L13.9,4 L17,2.6 L18.6,1.7 L16.5,2.1 L12.9,3.4 L9.7,5.1 L5.5,8.4 L3.2,10.8 L3.2,5.2 L1.4,2 L1,0.2 Z"/>
<path transform="translate(430.30 255.00) scale(0.8356 1.0057)" d="M0,-0.3 L-1,0.2 L-1.4,2 L-3.2,5.2 L-3.2,10.6 L-3.9,9.5 L-7.6,6.5 L-13.4,3.6 L-18.5,2.5 L-16,3.7 L-12.9,5.5 L-8.7,8.7 L-6,12.4 L-4.2,14.2 L-3.5,17.3 L4.9,17.3 L5.3,14.2 L7.3,11.3 L10.6,7.5 L13.9,4 L17,2.6 L18.6,1.7 L16.5,2.1 L12.9,3.4 L9.7,5.1 L5.5,8.4 L3.2,10.8 L3.2,5.2 L1.4,2 L1,0.2 Z"/>
<path transform="translate(473.15 216.00) scale(0.6783 0.6274)" d="M-1,0 C-2,3.5 -4,7 -7.4,10 L-15.5,13.5 L-15.5,20.8 L-8,19.4 C-11,24.5 -15,30 -18.6,34 L-23.2,36.2 L-23.2,44 L-10.6,42.6 L-10.6,45.4 C-15.5,49.5 -20.5,53.5 -25.7,57 L-29.8,58.2 L-29.8,72.6 L-22.2,72.3 C-18,70 -14,67.5 -10.4,66 L-7.5,66 L-7.5,72.8 L7.4,73 L7.4,66 L10.3,66 C14,67.5 18,70 21.5,71.5 L30.2,72.6 L30.2,57 L24,54.3 C19.5,50.5 15.5,47 12.1,44 L12.1,43 L23.8,43 L23.8,36.6 L18,34 C14.4,30 10.4,25 7.3,20.6 L7.9,19.1 L15.2,20.6 L15.2,13.5 L6.7,9.7 C3.5,7 0.5,3.5 -1,0 Z"/>
<path transform="translate(473.80 268.00) scale(0.6733 0.6479)" d="M-1,0 C-2,3.5 -4,7 -7.4,10 L-15.5,13.5 L-15.5,20.8 L-8,19.4 C-11,24.5 -15,30 -18.6,34 L-23.2,36.2 L-23.2,44 L-10.6,42.6 L-10.6,45.4 C-15.5,49.5 -20.5,53.5 -25.7,57 L-29.8,58.2 L-29.8,72.6 L-22.2,72.3 C-18,70 -14,67.5 -10.4,66 L-7.5,66 L-7.5,72.8 L7.4,73 L7.4,66 L10.3,66 C14,67.5 18,70 21.5,71.5 L30.2,72.6 L30.2,57 L24,54.3 C19.5,50.5 15.5,47 12.1,44 L12.1,43 L23.8,43 L23.8,36.6 L18,34 C14.4,30 10.4,25 7.3,20.6 L7.9,19.1 L15.2,20.6 L15.2,13.5 L6.7,9.7 C3.5,7 0.5,3.5 -1,0 Z"/>
<path transform="translate(517.50 214.00) scale(0.6833 0.6534)" d="M-1,0 C-2,3.5 -4,7 -7.4,10 L-15.5,13.5 L-15.5,20.8 L-8,19.4 C-11,24.5 -15,30 -18.6,34 L-23.2,36.2 L-23.2,44 L-10.6,42.6 L-10.6,45.4 C-15.5,49.5 -20.5,53.5 -25.7,57 L-29.8,58.2 L-29.8,72.6 L-22.2,72.3 C-18,70 -14,67.5 -10.4,66 L-7.5,66 L-7.5,72.8 L7.4,73 L7.4,66 L10.3,66 C14,67.5 18,70 21.5,71.5 L30.2,72.6 L30.2,57 L24,54.3 C19.5,50.5 15.5,47 12.1,44 L12.1,43 L23.8,43 L23.8,36.6 L18,34 C14.4,30 10.4,25 7.3,20.6 L7.9,19.1 L15.2,20.6 L15.2,13.5 L6.7,9.7 C3.5,7 0.5,3.5 -1,0 Z"/>
<path transform="translate(518.15 267.00) scale(0.6783 0.6616)" d="M-1,0 C-2,3.5 -4,7 -7.4,10 L-15.5,13.5 L-15.5,20.8 L-8,19.4 C-11,24.5 -15,30 -18.6,34 L-23.2,36.2 L-23.2,44 L-10.6,42.6 L-10.6,45.4 C-15.5,49.5 -20.5,53.5 -25.7,57 L-29.8,58.2 L-29.8,72.6 L-22.2,72.3 C-18,70 -14,67.5 -10.4,66 L-7.5,66 L-7.5,72.8 L7.4,73 L7.4,66 L10.3,66 C14,67.5 18,70 21.5,71.5 L30.2,72.6 L30.2,57 L24,54.3 C19.5,50.5 15.5,47 12.1,44 L12.1,43 L23.8,43 L23.8,36.6 L18,34 C14.4,30 10.4,25 7.3,20.6 L7.9,19.1 L15.2,20.6 L15.2,13.5 L6.7,9.7 C3.5,7 0.5,3.5 -1,0 Z"/>
<path transform="translate(561.85 215.60) scale(0.6850 0.6315)" d="M-1,0 C-2,3.5 -4,7 -7.4,10 L-15.5,13.5 L-15.5,20.8 L-8,19.4 C-11,24.5 -15,30 -18.6,34 L-23.2,36.2 L-23.2,44 L-10.6,42.6 L-10.6,45.4 C-15.5,49.5 -20.5,53.5 -25.7,57 L-29.8,58.2 L-29.8,72.6 L-22.2,72.3 C-18,70 -14,67.5 -10.4,66 L-7.5,66 L-7.5,72.8 L7.4,73 L7.4,66 L10.3,66 C14,67.5 18,70 21.5,71.5 L30.2,72.6 L30.2,57 L24,54.3 C19.5,50.5 15.5,47 12.1,44 L12.1,43 L23.8,43 L23.8,36.6 L18,34 C14.4,30 10.4,25 7.3,20.6 L7.9,19.1 L15.2,20.6 L15.2,13.5 L6.7,9.7 C3.5,7 0.5,3.5 -1,0 Z"/>
<path transform="translate(562.50 267.50) scale(0.6800 0.6479)" d="M-1,0 C-2,3.5 -4,7 -7.4,10 L-15.5,13.5 L-15.5,20.8 L-8,19.4 C-11,24.5 -15,30 -18.6,34 L-23.2,36.2 L-23.2,44 L-10.6,42.6 L-10.6,45.4 C-15.5,49.5 -20.5,53.5 -25.7,57 L-29.8,58.2 L-29.8,72.6 L-22.2,72.3 C-18,70 -14,67.5 -10.4,66 L-7.5,66 L-7.5,72.8 L7.4,73 L7.4,66 L10.3,66 C14,67.5 18,70 21.5,71.5 L30.2,72.6 L30.2,57 L24,54.3 C19.5,50.5 15.5,47 12.1,44 L12.1,43 L23.8,43 L23.8,36.6 L18,34 C14.4,30 10.4,25 7.3,20.6 L7.9,19.1 L15.2,20.6 L15.2,13.5 L6.7,9.7 C3.5,7 0.5,3.5 -1,0 Z"/>
<path transform="translate(606.15 213.80) scale(0.6950 0.6466)" d="M-1,0 C-2,3.5 -4,7 -7.4,10 L-15.5,13.5 L-15.5,20.8 L-8,19.4 C-11,24.5 -15,30 -18.6,34 L-23.2,36.2 L-23.2,44 L-10.6,42.6 L-10.6,45.4 C-15.5,49.5 -20.5,53.5 -25.7,57 L-29.8,58.2 L-29.8,72.6 L-22.2,72.3 C-18,70 -14,67.5 -10.4,66 L-7.5,66 L-7.5,72.8 L7.4,73 L7.4,66 L10.3,66 C14,67.5 18,70 21.5,71.5 L30.2,72.6 L30.2,57 L24,54.3 C19.5,50.5 15.5,47 12.1,44 L12.1,43 L23.8,43 L23.8,36.6 L18,34 C14.4,30 10.4,25 7.3,20.6 L7.9,19.1 L15.2,20.6 L15.2,13.5 L6.7,9.7 C3.5,7 0.5,3.5 -1,0 Z"/>
<path transform="translate(606.80 267.50) scale(0.6900 0.6452)" d="M-1,0 C-2,3.5 -4,7 -7.4,10 L-15.5,13.5 L-15.5,20.8 L-8,19.4 C-11,24.5 -15,30 -18.6,34 L-23.2,36.2 L-23.2,44 L-10.6,42.6 L-10.6,45.4 C-15.5,49.5 -20.5,53.5 -25.7,57 L-29.8,58.2 L-29.8,72.6 L-22.2,72.3 C-18,70 -14,67.5 -10.4,66 L-7.5,66 L-7.5,72.8 L7.4,73 L7.4,66 L10.3,66 C14,67.5 18,70 21.5,71.5 L30.2,72.6 L30.2,57 L24,54.3 C19.5,50.5 15.5,47 12.1,44 L12.1,43 L23.8,43 L23.8,36.6 L18,34 C14.4,30 10.4,25 7.3,20.6 L7.9,19.1 L15.2,20.6 L15.2,13.5 L6.7,9.7 C3.5,7 0.5,3.5 -1,0 Z"/>
<path transform="translate(651.45 213.80) scale(0.6917 0.6466)" d="M-1,0 C-2,3.5 -4,7 -7.4,10 L-15.5,13.5 L-15.5,20.8 L-8,19.4 C-11,24.5 -15,30 -18.6,34 L-23.2,36.2 L-23.2,44 L-10.6,42.6 L-10.6,45.4 C-15.5,49.5 -20.5,53.5 -25.7,57 L-29.8,58.2 L-29.8,72.6 L-22.2,72.3 C-18,70 -14,67.5 -10.4,66 L-7.5,66 L-7.5,72.8 L7.4,73 L7.4,66 L10.3,66 C14,67.5 18,70 21.5,71.5 L30.2,72.6 L30.2,57 L24,54.3 C19.5,50.5 15.5,47 12.1,44 L12.1,43 L23.8,43 L23.8,36.6 L18,34 C14.4,30 10.4,25 7.3,20.6 L7.9,19.1 L15.2,20.6 L15.2,13.5 L6.7,9.7 C3.5,7 0.5,3.5 -1,0 Z"/>
<path transform="translate(652.10 267.50) scale(0.6867 0.6452)" d="M-1,0 C-2,3.5 -4,7 -7.4,10 L-15.5,13.5 L-15.5,20.8 L-8,19.4 C-11,24.5 -15,30 -18.6,34 L-23.2,36.2 L-23.2,44 L-10.6,42.6 L-10.6,45.4 C-15.5,49.5 -20.5,53.5 -25.7,57 L-29.8,58.2 L-29.8,72.6 L-22.2,72.3 C-18,70 -14,67.5 -10.4,66 L-7.5,66 L-7.5,72.8 L7.4,73 L7.4,66 L10.3,66 C14,67.5 18,70 21.5,71.5 L30.2,72.6 L30.2,57 L24,54.3 C19.5,50.5 15.5,47 12.1,44 L12.1,43 L23.8,43 L23.8,36.6 L18,34 C14.4,30 10.4,25 7.3,20.6 L7.9,19.1 L15.2,20.6 L15.2,13.5 L6.7,9.7 C3.5,7 0.5,3.5 -1,0 Z"/>
<path transform="translate(696.15 213.80) scale(0.6717 0.6397)" d="M-1,0 C-2,3.5 -4,7 -7.4,10 L-15.5,13.5 L-15.5,20.8 L-8,19.4 C-11,24.5 -15,30 -18.6,34 L-23.2,36.2 L-23.2,44 L-10.6,42.6 L-10.6,45.4 C-15.5,49.5 -20.5,53.5 -25.7,57 L-29.8,58.2 L-29.8,72.6 L-22.2,72.3 C-18,70 -14,67.5 -10.4,66 L-7.5,66 L-7.5,72.8 L7.4,73 L7.4,66 L10.3,66 C14,67.5 18,70 21.5,71.5 L30.2,72.6 L30.2,57 L24,54.3 C19.5,50.5 15.5,47 12.1,44 L12.1,43 L23.8,43 L23.8,36.6 L18,34 C14.4,30 10.4,25 7.3,20.6 L7.9,19.1 L15.2,20.6 L15.2,13.5 L6.7,9.7 C3.5,7 0.5,3.5 -1,0 Z"/>
<path transform="translate(696.80 267.50) scale(0.6667 0.6425)" d="M-1,0 C-2,3.5 -4,7 -7.4,10 L-15.5,13.5 L-15.5,20.8 L-8,19.4 C-11,24.5 -15,30 -18.6,34 L-23.2,36.2 L-23.2,44 L-10.6,42.6 L-10.6,45.4 C-15.5,49.5 -20.5,53.5 -25.7,57 L-29.8,58.2 L-29.8,72.6 L-22.2,72.3 C-18,70 -14,67.5 -10.4,66 L-7.5,66 L-7.5,72.8 L7.4,73 L7.4,66 L10.3,66 C14,67.5 18,70 21.5,71.5 L30.2,72.6 L30.2,57 L24,54.3 C19.5,50.5 15.5,47 12.1,44 L12.1,43 L23.8,43 L23.8,36.6 L18,34 C14.4,30 10.4,25 7.3,20.6 L7.9,19.1 L15.2,20.6 L15.2,13.5 L6.7,9.7 C3.5,7 0.5,3.5 -1,0 Z"/>
<path d="M4.70,312.0 L7.30,312.0 L7.70,329.2 L4.30,329.2 Z"/>
<path fill="none" stroke="#000" stroke-width="3.4" stroke-linejoin="round" d="M6.0,328.7 Q6.0,337.7 15.0,337.7 L15.0,337.7 L260.0,337.5 L460.0,335.5 L733.0,333.6"/>
<path d="M741.3,333.5 L732.8,328.7 L732.8,338.3 Z"/>
<path fill="none" stroke="#000" stroke-width="3.4" d="M732.0,333.6 L733.8,333.5"/>
<path d="M99.5,336.3 L101.8,332.0 L104.1,336.3 Z"/>
<path d="M360.5,335.2 L362.8,330.9 L365.1,335.2 Z"/>
<path d="M449.1,334.4 L451.4,330.1 L453.7,334.4 Z"/>
<path d="M717.0,332.4 L719.3,328.1 L721.6,332.4 Z"/>
<text class="n" x="8.1" y="355.3" font-size="12" textLength="9.2" lengthAdjust="spacingAndGlyphs">0</text>
<text class="n" x="97.7" y="355.3" font-size="12.5" textLength="8.6" lengthAdjust="spacingAndGlyphs">3</text>
<text class="n" x="356.0" y="353.6" font-size="12.5" textLength="11.0" lengthAdjust="spacingAndGlyphs">11</text>
<text class="n" x="444.1" y="353.4" font-size="13" textLength="13.7" lengthAdjust="spacingAndGlyphs">14</text>
<text class="n" x="707.5" y="352.2" font-size="13.5" textLength="17.5" lengthAdjust="spacingAndGlyphs">22</text>
<text class="t" x="13.7" y="374.0" font-size="15" textLength="95.6" lengthAdjust="spacingAndGlyphs">Interplanted</text>
<text class="t" x="26.8" y="395.0" font-size="15" textLength="77.5" lengthAdjust="spacingAndGlyphs">food crop</text>
<text class="t" x="150.1" y="374.3" font-size="15" textLength="154.7" lengthAdjust="spacingAndGlyphs">Planted forest crop</text>
<text class="t" x="360.8" y="372.8" font-size="15" textLength="94.3" lengthAdjust="spacingAndGlyphs">Interplanted</text>
<text class="t" x="369.2" y="394.5" font-size="15" textLength="76.2" lengthAdjust="spacingAndGlyphs">food crop</text>
<text class="t" x="512.8" y="371.6" font-size="15" textLength="157.4" lengthAdjust="spacingAndGlyphs">Planted forest crop</text>
<text class="t" x="273.1" y="422.4" font-size="15" textLength="214.3" lengthAdjust="spacingAndGlyphs">Taungya system (one type)</text>
<text class="t" x="726.7" y="323.5" font-size="16" textLength="45.6" lengthAdjust="spacingAndGlyphs">Years</text>
<path transform="translate(37.30 449.80) scale(1.0189 0.9773)" d="M0,-0.3 L-1,0.2 L-1.4,2 L-3.2,5.2 L-3.2,10.6 L-3.9,9.5 L-7.6,6.5 L-13.4,3.6 L-18.5,2.5 L-16,3.7 L-12.9,5.5 L-8.7,8.7 L-6,12.4 L-4.2,14.2 L-3.5,17.3 L4.9,17.3 L5.3,14.2 L7.3,11.3 L10.6,7.5 L13.9,4 L17,2.6 L18.6,1.7 L16.5,2.1 L12.9,3.4 L9.7,5.1 L5.5,8.4 L3.2,10.8 L3.2,5.2 L1.4,2 L1,0.2 Z"/>
<path transform="translate(81.80 449.20) scale(0.9838 0.9886)" d="M0,-0.3 L-1,0.2 L-1.4,2 L-3.2,5.2 L-3.2,10.6 L-3.9,9.5 L-7.6,6.5 L-13.4,3.6 L-18.5,2.5 L-16,3.7 L-12.9,5.5 L-8.7,8.7 L-6,12.4 L-4.2,14.2 L-3.5,17.3 L4.9,17.3 L5.3,14.2 L7.3,11.3 L10.6,7.5 L13.9,4 L17,2.6 L18.6,1.7 L16.5,2.1 L12.9,3.4 L9.7,5.1 L5.5,8.4 L3.2,10.8 L3.2,5.2 L1.4,2 L1,0.2 Z"/>
<path transform="translate(37.30 472.20) scale(1.0189 0.9489)" d="M0,-0.3 L-1,0.2 L-1.4,2 L-3.2,5.2 L-3.2,10.6 L-3.9,9.5 L-7.6,6.5 L-13.4,3.6 L-18.5,2.5 L-16,3.7 L-12.9,5.5 L-8.7,8.7 L-6,12.4 L-4.2,14.2 L-3.5,17.3 L4.9,17.3 L5.3,14.2 L7.3,11.3 L10.6,7.5 L13.9,4 L17,2.6 L18.6,1.7 L16.5,2.1 L12.9,3.4 L9.7,5.1 L5.5,8.4 L3.2,10.8 L3.2,5.2 L1.4,2 L1,0.2 Z"/>
<path transform="translate(81.80 471.60) scale(0.9838 0.9602)" d="M0,-0.3 L-1,0.2 L-1.4,2 L-3.2,5.2 L-3.2,10.6 L-3.9,9.5 L-7.6,6.5 L-13.4,3.6 L-18.5,2.5 L-16,3.7 L-12.9,5.5 L-8.7,8.7 L-6,12.4 L-4.2,14.2 L-3.5,17.3 L4.9,17.3 L5.3,14.2 L7.3,11.3 L10.6,7.5 L13.9,4 L17,2.6 L18.6,1.7 L16.5,2.1 L12.9,3.4 L9.7,5.1 L5.5,8.4 L3.2,10.8 L3.2,5.2 L1.4,2 L1,0.2 Z"/>
<path transform="translate(37.30 492.40) scale(1.0189 0.9886)" d="M0,-0.3 L-1,0.2 L-1.4,2 L-3.2,5.2 L-3.2,10.6 L-3.9,9.5 L-7.6,6.5 L-13.4,3.6 L-18.5,2.5 L-16,3.7 L-12.9,5.5 L-8.7,8.7 L-6,12.4 L-4.2,14.2 L-3.5,17.3 L4.9,17.3 L5.3,14.2 L7.3,11.3 L10.6,7.5 L13.9,4 L17,2.6 L18.6,1.7 L16.5,2.1 L12.9,3.4 L9.7,5.1 L5.5,8.4 L3.2,10.8 L3.2,5.2 L1.4,2 L1,0.2 Z"/>
<path transform="translate(81.80 491.80) scale(0.9838 1.0000)" d="M0,-0.3 L-1,0.2 L-1.4,2 L-3.2,5.2 L-3.2,10.6 L-3.9,9.5 L-7.6,6.5 L-13.4,3.6 L-18.5,2.5 L-16,3.7 L-12.9,5.5 L-8.7,8.7 L-6,12.4 L-4.2,14.2 L-3.5,17.3 L4.9,17.3 L5.3,14.2 L7.3,11.3 L10.6,7.5 L13.9,4 L17,2.6 L18.6,1.7 L16.5,2.1 L12.9,3.4 L9.7,5.1 L5.5,8.4 L3.2,10.8 L3.2,5.2 L1.4,2 L1,0.2 Z"/>
<path transform="translate(37.30 513.00) scale(1.0189 1.0000)" d="M0,-0.3 L-1,0.2 L-1.4,2 L-3.2,5.2 L-3.2,10.6 L-3.9,9.5 L-7.6,6.5 L-13.4,3.6 L-18.5,2.5 L-16,3.7 L-12.9,5.5 L-8.7,8.7 L-6,12.4 L-4.2,14.2 L-3.5,17.3 L4.9,17.3 L5.3,14.2 L7.3,11.3 L10.6,7.5 L13.9,4 L17,2.6 L18.6,1.7 L16.5,2.1 L12.9,3.4 L9.7,5.1 L5.5,8.4 L3.2,10.8 L3.2,5.2 L1.4,2 L1,0.2 Z"/>
<path transform="translate(81.80 512.40) scale(0.9838 1.0114)" d="M0,-0.3 L-1,0.2 L-1.4,2 L-3.2,5.2 L-3.2,10.6 L-3.9,9.5 L-7.6,6.5 L-13.4,3.6 L-18.5,2.5 L-16,3.7 L-12.9,5.5 L-8.7,8.7 L-6,12.4 L-4.2,14.2 L-3.5,17.3 L4.9,17.3 L5.3,14.2 L7.3,11.3 L10.6,7.5 L13.9,4 L17,2.6 L18.6,1.7 L16.5,2.1 L12.9,3.4 L9.7,5.1 L5.5,8.4 L3.2,10.8 L3.2,5.2 L1.4,2 L1,0.2 Z"/>
<path transform="translate(37.30 534.00) scale(1.0189 1.0455)" d="M0,-0.3 L-1,0.2 L-1.4,2 L-3.2,5.2 L-3.2,10.6 L-3.9,9.5 L-7.6,6.5 L-13.4,3.6 L-18.5,2.5 L-16,3.7 L-12.9,5.5 L-8.7,8.7 L-6,12.4 L-4.2,14.2 L-3.5,17.3 L4.9,17.3 L5.3,14.2 L7.3,11.3 L10.6,7.5 L13.9,4 L17,2.6 L18.6,1.7 L16.5,2.1 L12.9,3.4 L9.7,5.1 L5.5,8.4 L3.2,10.8 L3.2,5.2 L1.4,2 L1,0.2 Z"/>
<path transform="translate(81.80 533.40) scale(0.9838 1.0568)" d="M0,-0.3 L-1,0.2 L-1.4,2 L-3.2,5.2 L-3.2,10.6 L-3.9,9.5 L-7.6,6.5 L-13.4,3.6 L-18.5,2.5 L-16,3.7 L-12.9,5.5 L-8.7,8.7 L-6,12.4 L-4.2,14.2 L-3.5,17.3 L4.9,17.3 L5.3,14.2 L7.3,11.3 L10.6,7.5 L13.9,4 L17,2.6 L18.6,1.7 L16.5,2.1 L12.9,3.4 L9.7,5.1 L5.5,8.4 L3.2,10.8 L3.2,5.2 L1.4,2 L1,0.2 Z"/>
<path transform="translate(117.30 450.00) scale(0.4333 0.4301)" d="M-1,0 C-2,3.5 -4,7 -7.4,10 L-15.5,13.5 L-15.5,20.8 L-8,19.4 C-11,24.5 -15,30 -18.6,34 L-23.2,36.2 L-23.2,44 L-10.6,42.6 L-10.6,45.4 C-15.5,49.5 -20.5,53.5 -25.7,57 L-29.8,58.2 L-29.8,72.6 L-22.2,72.3 C-18,70 -14,67.5 -10.4,66 L-7.5,66 L-7.5,72.8 L7.4,73 L7.4,66 L10.3,66 C14,67.5 18,70 21.5,71.5 L30.2,72.6 L30.2,57 L24,54.3 C19.5,50.5 15.5,47 12.1,44 L12.1,43 L23.8,43 L23.8,36.6 L18,34 C14.4,30 10.4,25 7.3,20.6 L7.9,19.1 L15.2,20.6 L15.2,13.5 L6.7,9.7 C3.5,7 0.5,3.5 -1,0 Z"/>
<path transform="translate(145.50 449.60) scale(0.4233 0.4329)" d="M-1,0 C-2,3.5 -4,7 -7.4,10 L-15.5,13.5 L-15.5,20.8 L-8,19.4 C-11,24.5 -15,30 -18.6,34 L-23.2,36.2 L-23.2,44 L-10.6,42.6 L-10.6,45.4 C-15.5,49.5 -20.5,53.5 -25.7,57 L-29.8,58.2 L-29.8,72.6 L-22.2,72.3 C-18,70 -14,67.5 -10.4,66 L-7.5,66 L-7.5,72.8 L7.4,73 L7.4,66 L10.3,66 C14,67.5 18,70 21.5,71.5 L30.2,72.6 L30.2,57 L24,54.3 C19.5,50.5 15.5,47 12.1,44 L12.1,43 L23.8,43 L23.8,36.6 L18,34 C14.4,30 10.4,25 7.3,20.6 L7.9,19.1 L15.2,20.6 L15.2,13.5 L6.7,9.7 C3.5,7 0.5,3.5 -1,0 Z"/>
<path transform="translate(174.60 449.40) scale(0.4467 0.4356)" d="M-1,0 C-2,3.5 -4,7 -7.4,10 L-15.5,13.5 L-15.5,20.8 L-8,19.4 C-11,24.5 -15,30 -18.6,34 L-23.2,36.2 L-23.2,44 L-10.6,42.6 L-10.6,45.4 C-15.5,49.5 -20.5,53.5 -25.7,57 L-29.8,58.2 L-29.8,72.6 L-22.2,72.3 C-18,70 -14,67.5 -10.4,66 L-7.5,66 L-7.5,72.8 L7.4,73 L7.4,66 L10.3,66 C14,67.5 18,70 21.5,71.5 L30.2,72.6 L30.2,57 L24,54.3 C19.5,50.5 15.5,47 12.1,44 L12.1,43 L23.8,43 L23.8,36.6 L18,34 C14.4,30 10.4,25 7.3,20.6 L7.9,19.1 L15.2,20.6 L15.2,13.5 L6.7,9.7 C3.5,7 0.5,3.5 -1,0 Z"/>
<path transform="translate(118.25 519.30) scale(0.4583 0.4315)" d="M-1,0 C-2,3.5 -4,7 -7.4,10 L-15.5,13.5 L-15.5,20.8 L-8,19.4 C-11,24.5 -15,30 -18.6,34 L-23.2,36.2 L-23.2,44 L-10.6,42.6 L-10.6,45.4 C-15.5,49.5 -20.5,53.5 -25.7,57 L-29.8,58.2 L-29.8,72.6 L-22.2,72.3 C-18,70 -14,67.5 -10.4,66 L-7.5,66 L-7.5,72.8 L7.4,73 L7.4,66 L10.3,66 C14,67.5 18,70 21.5,71.5 L30.2,72.6 L30.2,57 L24,54.3 C19.5,50.5 15.5,47 12.1,44 L12.1,43 L23.8,43 L23.8,36.6 L18,34 C14.4,30 10.4,25 7.3,20.6 L7.9,19.1 L15.2,20.6 L15.2,13.5 L6.7,9.7 C3.5,7 0.5,3.5 -1,0 Z"/>
<path transform="translate(146.45 518.50) scale(0.4383 0.4370)" d="M-1,0 C-2,3.5 -4,7 -7.4,10 L-15.5,13.5 L-15.5,20.8 L-8,19.4 C-11,24.5 -15,30 -18.6,34 L-23.2,36.2 L-23.2,44 L-10.6,42.6 L-10.6,45.4 C-15.5,49.5 -20.5,53.5 -25.7,57 L-29.8,58.2 L-29.8,72.6 L-22.2,72.3 C-18,70 -14,67.5 -10.4,66 L-7.5,66 L-7.5,72.8 L7.4,73 L7.4,66 L10.3,66 C14,67.5 18,70 21.5,71.5 L30.2,72.6 L30.2,57 L24,54.3 C19.5,50.5 15.5,47 12.1,44 L12.1,43 L23.8,43 L23.8,36.6 L18,34 C14.4,30 10.4,25 7.3,20.6 L7.9,19.1 L15.2,20.6 L15.2,13.5 L6.7,9.7 C3.5,7 0.5,3.5 -1,0 Z"/>
<path transform="translate(174.75 518.20) scale(0.4417 0.4384)" d="M-1,0 C-2,3.5 -4,7 -7.4,10 L-15.5,13.5 L-15.5,20.8 L-8,19.4 C-11,24.5 -15,30 -18.6,34 L-23.2,36.2 L-23.2,44 L-10.6,42.6 L-10.6,45.4 C-15.5,49.5 -20.5,53.5 -25.7,57 L-29.8,58.2 L-29.8,72.6 L-22.2,72.3 C-18,70 -14,67.5 -10.4,66 L-7.5,66 L-7.5,72.8 L7.4,73 L7.4,66 L10.3,66 C14,67.5 18,70 21.5,71.5 L30.2,72.6 L30.2,57 L24,54.3 C19.5,50.5 15.5,47 12.1,44 L12.1,43 L23.8,43 L23.8,36.6 L18,34 C14.4,30 10.4,25 7.3,20.6 L7.9,19.1 L15.2,20.6 L15.2,13.5 L6.7,9.7 C3.5,7 0.5,3.5 -1,0 Z"/>
<path transform="translate(125.30 491.40) scale(0.8625 0.9659)" d="M0,-0.3 L-1,0.2 L-1.4,2 L-3.2,5.2 L-3.2,10.6 L-3.9,9.5 L-7.6,6.5 L-13.4,3.6 L-18.5,2.5 L-16,3.7 L-12.9,5.5 L-8.7,8.7 L-6,12.4 L-4.2,14.2 L-3.5,17.3 L4.9,17.3 L5.3,14.2 L7.3,11.3 L10.6,7.5 L13.9,4 L17,2.6 L18.6,1.7 L16.5,2.1 L12.9,3.4 L9.7,5.1 L5.5,8.4 L3.2,10.8 L3.2,5.2 L1.4,2 L1,0.2 Z"/>
<path transform="translate(167.20 491.80) scale(0.9434 0.9432)" d="M0,-0.3 L-1,0.2 L-1.4,2 L-3.2,5.2 L-3.2,10.6 L-3.9,9.5 L-7.6,6.5 L-13.4,3.6 L-18.5,2.5 L-16,3.7 L-12.9,5.5 L-8.7,8.7 L-6,12.4 L-4.2,14.2 L-3.5,17.3 L4.9,17.3 L5.3,14.2 L7.3,11.3 L10.6,7.5 L13.9,4 L17,2.6 L18.6,1.7 L16.5,2.1 L12.9,3.4 L9.7,5.1 L5.5,8.4 L3.2,10.8 L3.2,5.2 L1.4,2 L1,0.2 Z"/>
<path transform="translate(211.05 449.60) scale(0.6717 0.6575)" d="M-1,0 C-2,3.5 -4,7 -7.4,10 L-15.5,13.5 L-15.5,20.8 L-8,19.4 C-11,24.5 -15,30 -18.6,34 L-23.2,36.2 L-23.2,44 L-10.6,42.6 L-10.6,45.4 C-15.5,49.5 -20.5,53.5 -25.7,57 L-29.8,58.2 L-29.8,72.6 L-22.2,72.3 C-18,70 -14,67.5 -10.4,66 L-7.5,66 L-7.5,72.8 L7.4,73 L7.4,66 L10.3,66 C14,67.5 18,70 21.5,71.5 L30.2,72.6 L30.2,57 L24,54.3 C19.5,50.5 15.5,47 12.1,44 L12.1,43 L23.8,43 L23.8,36.6 L18,34 C14.4,30 10.4,25 7.3,20.6 L7.9,19.1 L15.2,20.6 L15.2,13.5 L6.7,9.7 C3.5,7 0.5,3.5 -1,0 Z"/>
<path transform="translate(211.05 503.20) scale(0.6717 0.6521)" d="M-1,0 C-2,3.5 -4,7 -7.4,10 L-15.5,13.5 L-15.5,20.8 L-8,19.4 C-11,24.5 -15,30 -18.6,34 L-23.2,36.2 L-23.2,44 L-10.6,42.6 L-10.6,45.4 C-15.5,49.5 -20.5,53.5 -25.7,57 L-29.8,58.2 L-29.8,72.6 L-22.2,72.3 C-18,70 -14,67.5 -10.4,66 L-7.5,66 L-7.5,72.8 L7.4,73 L7.4,66 L10.3,66 C14,67.5 18,70 21.5,71.5 L30.2,72.6 L30.2,57 L24,54.3 C19.5,50.5 15.5,47 12.1,44 L12.1,43 L23.8,43 L23.8,36.6 L18,34 C14.4,30 10.4,25 7.3,20.6 L7.9,19.1 L15.2,20.6 L15.2,13.5 L6.7,9.7 C3.5,7 0.5,3.5 -1,0 Z"/>
<path transform="translate(254.95 449.60) scale(0.6650 0.6575)" d="M-1,0 C-2,3.5 -4,7 -7.4,10 L-15.5,13.5 L-15.5,20.8 L-8,19.4 C-11,24.5 -15,30 -18.6,34 L-23.2,36.2 L-23.2,44 L-10.6,42.6 L-10.6,45.4 C-15.5,49.5 -20.5,53.5 -25.7,57 L-29.8,58.2 L-29.8,72.6 L-22.2,72.3 C-18,70 -14,67.5 -10.4,66 L-7.5,66 L-7.5,72.8 L7.4,73 L7.4,66 L10.3,66 C14,67.5 18,70 21.5,71.5 L30.2,72.6 L30.2,57 L24,54.3 C19.5,50.5 15.5,47 12.1,44 L12.1,43 L23.8,43 L23.8,36.6 L18,34 C14.4,30 10.4,25 7.3,20.6 L7.9,19.1 L15.2,20.6 L15.2,13.5 L6.7,9.7 C3.5,7 0.5,3.5 -1,0 Z"/>
<path transform="translate(254.95 503.20) scale(0.6650 0.6521)" d="M-1,0 C-2,3.5 -4,7 -7.4,10 L-15.5,13.5 L-15.5,20.8 L-8,19.4 C-11,24.5 -15,30 -18.6,34 L-23.2,36.2 L-23.2,44 L-10.6,42.6 L-10.6,45.4 C-15.5,49.5 -20.5,53.5 -25.7,57 L-29.8,58.2 L-29.8,72.6 L-22.2,72.3 C-18,70 -14,67.5 -10.4,66 L-7.5,66 L-7.5,72.8 L7.4,73 L7.4,66 L10.3,66 C14,67.5 18,70 21.5,71.5 L30.2,72.6 L30.2,57 L24,54.3 C19.5,50.5 15.5,47 12.1,44 L12.1,43 L23.8,43 L23.8,36.6 L18,34 C14.4,30 10.4,25 7.3,20.6 L7.9,19.1 L15.2,20.6 L15.2,13.5 L6.7,9.7 C3.5,7 0.5,3.5 -1,0 Z"/>
<path transform="translate(298.80 449.60) scale(0.6600 0.6575)" d="M-1,0 C-2,3.5 -4,7 -7.4,10 L-15.5,13.5 L-15.5,20.8 L-8,19.4 C-11,24.5 -15,30 -18.6,34 L-23.2,36.2 L-23.2,44 L-10.6,42.6 L-10.6,45.4 C-15.5,49.5 -20.5,53.5 -25.7,57 L-29.8,58.2 L-29.8,72.6 L-22.2,72.3 C-18,70 -14,67.5 -10.4,66 L-7.5,66 L-7.5,72.8 L7.4,73 L7.4,66 L10.3,66 C14,67.5 18,70 21.5,71.5 L30.2,72.6 L30.2,57 L24,54.3 C19.5,50.5 15.5,47 12.1,44 L12.1,43 L23.8,43 L23.8,36.6 L18,34 C14.4,30 10.4,25 7.3,20.6 L7.9,19.1 L15.2,20.6 L15.2,13.5 L6.7,9.7 C3.5,7 0.5,3.5 -1,0 Z"/>
<path transform="translate(298.80 503.20) scale(0.6600 0.6521)" d="M-1,0 C-2,3.5 -4,7 -7.4,10 L-15.5,13.5 L-15.5,20.8 L-8,19.4 C-11,24.5 -15,30 -18.6,34 L-23.2,36.2 L-23.2,44 L-10.6,42.6 L-10.6,45.4 C-15.5,49.5 -20.5,53.5 -25.7,57 L-29.8,58.2 L-29.8,72.6 L-22.2,72.3 C-18,70 -14,67.5 -10.4,66 L-7.5,66 L-7.5,72.8 L7.4,73 L7.4,66 L10.3,66 C14,67.5 18,70 21.5,71.5 L30.2,72.6 L30.2,57 L24,54.3 C19.5,50.5 15.5,47 12.1,44 L12.1,43 L23.8,43 L23.8,36.6 L18,34 C14.4,30 10.4,25 7.3,20.6 L7.9,19.1 L15.2,20.6 L15.2,13.5 L6.7,9.7 C3.5,7 0.5,3.5 -1,0 Z"/>
<path transform="translate(342.80 449.60) scale(0.6767 0.6575)" d="M-1,0 C-2,3.5 -4,7 -7.4,10 L-15.5,13.5 L-15.5,20.8 L-8,19.4 C-11,24.5 -15,30 -18.6,34 L-23.2,36.2 L-23.2,44 L-10.6,42.6 L-10.6,45.4 C-15.5,49.5 -20.5,53.5 -25.7,57 L-29.8,58.2 L-29.8,72.6 L-22.2,72.3 C-18,70 -14,67.5 -10.4,66 L-7.5,66 L-7.5,72.8 L7.4,73 L7.4,66 L10.3,66 C14,67.5 18,70 21.5,71.5 L30.2,72.6 L30.2,57 L24,54.3 C19.5,50.5 15.5,47 12.1,44 L12.1,43 L23.8,43 L23.8,36.6 L18,34 C14.4,30 10.4,25 7.3,20.6 L7.9,19.1 L15.2,20.6 L15.2,13.5 L6.7,9.7 C3.5,7 0.5,3.5 -1,0 Z"/>
<path transform="translate(342.80 503.20) scale(0.6767 0.6521)" d="M-1,0 C-2,3.5 -4,7 -7.4,10 L-15.5,13.5 L-15.5,20.8 L-8,19.4 C-11,24.5 -15,30 -18.6,34 L-23.2,36.2 L-23.2,44 L-10.6,42.6 L-10.6,45.4 C-15.5,49.5 -20.5,53.5 -25.7,57 L-29.8,58.2 L-29.8,72.6 L-22.2,72.3 C-18,70 -14,67.5 -10.4,66 L-7.5,66 L-7.5,72.8 L7.4,73 L7.4,66 L10.3,66 C14,67.5 18,70 21.5,71.5 L30.2,72.6 L30.2,57 L24,54.3 C19.5,50.5 15.5,47 12.1,44 L12.1,43 L23.8,43 L23.8,36.6 L18,34 C14.4,30 10.4,25 7.3,20.6 L7.9,19.1 L15.2,20.6 L15.2,13.5 L6.7,9.7 C3.5,7 0.5,3.5 -1,0 Z"/>
<path transform="translate(387.25 449.60) scale(0.6650 0.6575)" d="M-1,0 C-2,3.5 -4,7 -7.4,10 L-15.5,13.5 L-15.5,20.8 L-8,19.4 C-11,24.5 -15,30 -18.6,34 L-23.2,36.2 L-23.2,44 L-10.6,42.6 L-10.6,45.4 C-15.5,49.5 -20.5,53.5 -25.7,57 L-29.8,58.2 L-29.8,72.6 L-22.2,72.3 C-18,70 -14,67.5 -10.4,66 L-7.5,66 L-7.5,72.8 L7.4,73 L7.4,66 L10.3,66 C14,67.5 18,70 21.5,71.5 L30.2,72.6 L30.2,57 L24,54.3 C19.5,50.5 15.5,47 12.1,44 L12.1,43 L23.8,43 L23.8,36.6 L18,34 C14.4,30 10.4,25 7.3,20.6 L7.9,19.1 L15.2,20.6 L15.2,13.5 L6.7,9.7 C3.5,7 0.5,3.5 -1,0 Z"/>
<path transform="translate(387.25 503.20) scale(0.6650 0.6521)" d="M-1,0 C-2,3.5 -4,7 -7.4,10 L-15.5,13.5 L-15.5,20.8 L-8,19.4 C-11,24.5 -15,30 -18.6,34 L-23.2,36.2 L-23.2,44 L-10.6,42.6 L-10.6,45.4 C-15.5,49.5 -20.5,53.5 -25.7,57 L-29.8,58.2 L-29.8,72.6 L-22.2,72.3 C-18,70 -14,67.5 -10.4,66 L-7.5,66 L-7.5,72.8 L7.4,73 L7.4,66 L10.3,66 C14,67.5 18,70 21.5,71.5 L30.2,72.6 L30.2,57 L24,54.3 C19.5,50.5 15.5,47 12.1,44 L12.1,43 L23.8,43 L23.8,36.6 L18,34 C14.4,30 10.4,25 7.3,20.6 L7.9,19.1 L15.2,20.6 L15.2,13.5 L6.7,9.7 C3.5,7 0.5,3.5 -1,0 Z"/>
<path transform="translate(430.35 449.60) scale(0.6650 0.6575)" d="M-1,0 C-2,3.5 -4,7 -7.4,10 L-15.5,13.5 L-15.5,20.8 L-8,19.4 C-11,24.5 -15,30 -18.6,34 L-23.2,36.2 L-23.2,44 L-10.6,42.6 L-10.6,45.4 C-15.5,49.5 -20.5,53.5 -25.7,57 L-29.8,58.2 L-29.8,72.6 L-22.2,72.3 C-18,70 -14,67.5 -10.4,66 L-7.5,66 L-7.5,72.8 L7.4,73 L7.4,66 L10.3,66 C14,67.5 18,70 21.5,71.5 L30.2,72.6 L30.2,57 L24,54.3 C19.5,50.5 15.5,47 12.1,44 L12.1,43 L23.8,43 L23.8,36.6 L18,34 C14.4,30 10.4,25 7.3,20.6 L7.9,19.1 L15.2,20.6 L15.2,13.5 L6.7,9.7 C3.5,7 0.5,3.5 -1,0 Z"/>
<path transform="translate(430.35 503.20) scale(0.6650 0.6521)" d="M-1,0 C-2,3.5 -4,7 -7.4,10 L-15.5,13.5 L-15.5,20.8 L-8,19.4 C-11,24.5 -15,30 -18.6,34 L-23.2,36.2 L-23.2,44 L-10.6,42.6 L-10.6,45.4 C-15.5,49.5 -20.5,53.5 -25.7,57 L-29.8,58.2 L-29.8,72.6 L-22.2,72.3 C-18,70 -14,67.5 -10.4,66 L-7.5,66 L-7.5,72.8 L7.4,73 L7.4,66 L10.3,66 C14,67.5 18,70 21.5,71.5 L30.2,72.6 L30.2,57 L24,54.3 C19.5,50.5 15.5,47 12.1,44 L12.1,43 L23.8,43 L23.8,36.6 L18,34 C14.4,30 10.4,25 7.3,20.6 L7.9,19.1 L15.2,20.6 L15.2,13.5 L6.7,9.7 C3.5,7 0.5,3.5 -1,0 Z"/>
<path transform="translate(474.40 448.80) scale(0.9030 1.0341)" d="M0,-0.3 L-1,0.2 L-1.4,2 L-3.2,5.2 L-3.2,10.6 L-3.9,9.5 L-7.6,6.5 L-13.4,3.6 L-18.5,2.5 L-16,3.7 L-12.9,5.5 L-8.7,8.7 L-6,12.4 L-4.2,14.2 L-3.5,17.3 L4.9,17.3 L5.3,14.2 L7.3,11.3 L10.6,7.5 L13.9,4 L17,2.6 L18.6,1.7 L16.5,2.1 L12.9,3.4 L9.7,5.1 L5.5,8.4 L3.2,10.8 L3.2,5.2 L1.4,2 L1,0.2 Z"/>
<path transform="translate(519.50 448.00) scale(0.9164 1.0284)" d="M0,-0.3 L-1,0.2 L-1.4,2 L-3.2,5.2 L-3.2,10.6 L-3.9,9.5 L-7.6,6.5 L-13.4,3.6 L-18.5,2.5 L-16,3.7 L-12.9,5.5 L-8.7,8.7 L-6,12.4 L-4.2,14.2 L-3.5,17.3 L4.9,17.3 L5.3,14.2 L7.3,11.3 L10.6,7.5 L13.9,4 L17,2.6 L18.6,1.7 L16.5,2.1 L12.9,3.4 L9.7,5.1 L5.5,8.4 L3.2,10.8 L3.2,5.2 L1.4,2 L1,0.2 Z"/>
<path transform="translate(474.40 471.00) scale(0.9030 0.9602)" d="M0,-0.3 L-1,0.2 L-1.4,2 L-3.2,5.2 L-3.2,10.6 L-3.9,9.5 L-7.6,6.5 L-13.4,3.6 L-18.5,2.5 L-16,3.7 L-12.9,5.5 L-8.7,8.7 L-6,12.4 L-4.2,14.2 L-3.5,17.3 L4.9,17.3 L5.3,14.2 L7.3,11.3 L10.6,7.5 L13.9,4 L17,2.6 L18.6,1.7 L16.5,2.1 L12.9,3.4 L9.7,5.1 L5.5,8.4 L3.2,10.8 L3.2,5.2 L1.4,2 L1,0.2 Z"/>
<path transform="translate(519.50 470.20) scale(0.9164 0.9545)" d="M0,-0.3 L-1,0.2 L-1.4,2 L-3.2,5.2 L-3.2,10.6 L-3.9,9.5 L-7.6,6.5 L-13.4,3.6 L-18.5,2.5 L-16,3.7 L-12.9,5.5 L-8.7,8.7 L-6,12.4 L-4.2,14.2 L-3.5,17.3 L4.9,17.3 L5.3,14.2 L7.3,11.3 L10.6,7.5 L13.9,4 L17,2.6 L18.6,1.7 L16.5,2.1 L12.9,3.4 L9.7,5.1 L5.5,8.4 L3.2,10.8 L3.2,5.2 L1.4,2 L1,0.2 Z"/>
<path transform="translate(474.40 492.00) scale(0.9030 0.9602)" d="M0,-0.3 L-1,0.2 L-1.4,2 L-3.2,5.2 L-3.2,10.6 L-3.9,9.5 L-7.6,6.5 L-13.4,3.6 L-18.5,2.5 L-16,3.7 L-12.9,5.5 L-8.7,8.7 L-6,12.4 L-4.2,14.2 L-3.5,17.3 L4.9,17.3 L5.3,14.2 L7.3,11.3 L10.6,7.5 L13.9,4 L17,2.6 L18.6,1.7 L16.5,2.1 L12.9,3.4 L9.7,5.1 L5.5,8.4 L3.2,10.8 L3.2,5.2 L1.4,2 L1,0.2 Z"/>
<path transform="translate(519.50 491.20) scale(0.9164 0.9545)" d="M0,-0.3 L-1,0.2 L-1.4,2 L-3.2,5.2 L-3.2,10.6 L-3.9,9.5 L-7.6,6.5 L-13.4,3.6 L-18.5,2.5 L-16,3.7 L-12.9,5.5 L-8.7,8.7 L-6,12.4 L-4.2,14.2 L-3.5,17.3 L4.9,17.3 L5.3,14.2 L7.3,11.3 L10.6,7.5 L13.9,4 L17,2.6 L18.6,1.7 L16.5,2.1 L12.9,3.4 L9.7,5.1 L5.5,8.4 L3.2,10.8 L3.2,5.2 L1.4,2 L1,0.2 Z"/>
<path transform="translate(474.40 513.90) scale(0.9030 0.9318)" d="M0,-0.3 L-1,0.2 L-1.4,2 L-3.2,5.2 L-3.2,10.6 L-3.9,9.5 L-7.6,6.5 L-13.4,3.6 L-18.5,2.5 L-16,3.7 L-12.9,5.5 L-8.7,8.7 L-6,12.4 L-4.2,14.2 L-3.5,17.3 L4.9,17.3 L5.3,14.2 L7.3,11.3 L10.6,7.5 L13.9,4 L17,2.6 L18.6,1.7 L16.5,2.1 L12.9,3.4 L9.7,5.1 L5.5,8.4 L3.2,10.8 L3.2,5.2 L1.4,2 L1,0.2 Z"/>
<path transform="translate(519.50 513.10) scale(0.9164 0.9261)" d="M0,-0.3 L-1,0.2 L-1.4,2 L-3.2,5.2 L-3.2,10.6 L-3.9,9.5 L-7.6,6.5 L-13.4,3.6 L-18.5,2.5 L-16,3.7 L-12.9,5.5 L-8.7,8.7 L-6,12.4 L-4.2,14.2 L-3.5,17.3 L4.9,17.3 L5.3,14.2 L7.3,11.3 L10.6,7.5 L13.9,4 L17,2.6 L18.6,1.7 L16.5,2.1 L12.9,3.4 L9.7,5.1 L5.5,8.4 L3.2,10.8 L3.2,5.2 L1.4,2 L1,0.2 Z"/>
<path transform="translate(474.40 534.00) scale(0.9030 0.9830)" d="M0,-0.3 L-1,0.2 L-1.4,2 L-3.2,5.2 L-3.2,10.6 L-3.9,9.5 L-7.6,6.5 L-13.4,3.6 L-18.5,2.5 L-16,3.7 L-12.9,5.5 L-8.7,8.7 L-6,12.4 L-4.2,14.2 L-3.5,17.3 L4.9,17.3 L5.3,14.2 L7.3,11.3 L10.6,7.5 L13.9,4 L17,2.6 L18.6,1.7 L16.5,2.1 L12.9,3.4 L9.7,5.1 L5.5,8.4 L3.2,10.8 L3.2,5.2 L1.4,2 L1,0.2 Z"/>
<path transform="translate(519.50 533.20) scale(0.9164 0.9773)" d="M0,-0.3 L-1,0.2 L-1.4,2 L-3.2,5.2 L-3.2,10.6 L-3.9,9.5 L-7.6,6.5 L-13.4,3.6 L-18.5,2.5 L-16,3.7 L-12.9,5.5 L-8.7,8.7 L-6,12.4 L-4.2,14.2 L-3.5,17.3 L4.9,17.3 L5.3,14.2 L7.3,11.3 L10.6,7.5 L13.9,4 L17,2.6 L18.6,1.7 L16.5,2.1 L12.9,3.4 L9.7,5.1 L5.5,8.4 L3.2,10.8 L3.2,5.2 L1.4,2 L1,0.2 Z"/>
<path transform="translate(557.65 448.80) scale(0.4450 0.4260)" d="M-1,0 C-2,3.5 -4,7 -7.4,10 L-15.5,13.5 L-15.5,20.8 L-8,19.4 C-11,24.5 -15,30 -18.6,34 L-23.2,36.2 L-23.2,44 L-10.6,42.6 L-10.6,45.4 C-15.5,49.5 -20.5,53.5 -25.7,57 L-29.8,58.2 L-29.8,72.6 L-22.2,72.3 C-18,70 -14,67.5 -10.4,66 L-7.5,66 L-7.5,72.8 L7.4,73 L7.4,66 L10.3,66 C14,67.5 18,70 21.5,71.5 L30.2,72.6 L30.2,57 L24,54.3 C19.5,50.5 15.5,47 12.1,44 L12.1,43 L23.8,43 L23.8,36.6 L18,34 C14.4,30 10.4,25 7.3,20.6 L7.9,19.1 L15.2,20.6 L15.2,13.5 L6.7,9.7 C3.5,7 0.5,3.5 -1,0 Z"/>
<path transform="translate(587.40 448.00) scale(0.4533 0.4315)" d="M-1,0 C-2,3.5 -4,7 -7.4,10 L-15.5,13.5 L-15.5,20.8 L-8,19.4 C-11,24.5 -15,30 -18.6,34 L-23.2,36.2 L-23.2,44 L-10.6,42.6 L-10.6,45.4 C-15.5,49.5 -20.5,53.5 -25.7,57 L-29.8,58.2 L-29.8,72.6 L-22.2,72.3 C-18,70 -14,67.5 -10.4,66 L-7.5,66 L-7.5,72.8 L7.4,73 L7.4,66 L10.3,66 C14,67.5 18,70 21.5,71.5 L30.2,72.6 L30.2,57 L24,54.3 C19.5,50.5 15.5,47 12.1,44 L12.1,43 L23.8,43 L23.8,36.6 L18,34 C14.4,30 10.4,25 7.3,20.6 L7.9,19.1 L15.2,20.6 L15.2,13.5 L6.7,9.7 C3.5,7 0.5,3.5 -1,0 Z"/>
<path transform="translate(618.50 448.40) scale(0.4500 0.4301)" d="M-1,0 C-2,3.5 -4,7 -7.4,10 L-15.5,13.5 L-15.5,20.8 L-8,19.4 C-11,24.5 -15,30 -18.6,34 L-23.2,36.2 L-23.2,44 L-10.6,42.6 L-10.6,45.4 C-15.5,49.5 -20.5,53.5 -25.7,57 L-29.8,58.2 L-29.8,72.6 L-22.2,72.3 C-18,70 -14,67.5 -10.4,66 L-7.5,66 L-7.5,72.8 L7.4,73 L7.4,66 L10.3,66 C14,67.5 18,70 21.5,71.5 L30.2,72.6 L30.2,57 L24,54.3 C19.5,50.5 15.5,47 12.1,44 L12.1,43 L23.8,43 L23.8,36.6 L18,34 C14.4,30 10.4,25 7.3,20.6 L7.9,19.1 L15.2,20.6 L15.2,13.5 L6.7,9.7 C3.5,7 0.5,3.5 -1,0 Z"/>
<path transform="translate(557.80 518.00) scale(0.4400 0.4274)" d="M-1,0 C-2,3.5 -4,7 -7.4,10 L-15.5,13.5 L-15.5,20.8 L-8,19.4 C-11,24.5 -15,30 -18.6,34 L-23.2,36.2 L-23.2,44 L-10.6,42.6 L-10.6,45.4 C-15.5,49.5 -20.5,53.5 -25.7,57 L-29.8,58.2 L-29.8,72.6 L-22.2,72.3 C-18,70 -14,67.5 -10.4,66 L-7.5,66 L-7.5,72.8 L7.4,73 L7.4,66 L10.3,66 C14,67.5 18,70 21.5,71.5 L30.2,72.6 L30.2,57 L24,54.3 C19.5,50.5 15.5,47 12.1,44 L12.1,43 L23.8,43 L23.8,36.6 L18,34 C14.4,30 10.4,25 7.3,20.6 L7.9,19.1 L15.2,20.6 L15.2,13.5 L6.7,9.7 C3.5,7 0.5,3.5 -1,0 Z"/>
<path transform="translate(587.95 518.00) scale(0.4450 0.4274)" d="M-1,0 C-2,3.5 -4,7 -7.4,10 L-15.5,13.5 L-15.5,20.8 L-8,19.4 C-11,24.5 -15,30 -18.6,34 L-23.2,36.2 L-23.2,44 L-10.6,42.6 L-10.6,45.4 C-15.5,49.5 -20.5,53.5 -25.7,57 L-29.8,58.2 L-29.8,72.6 L-22.2,72.3 C-18,70 -14,67.5 -10.4,66 L-7.5,66 L-7.5,72.8 L7.4,73 L7.4,66 L10.3,66 C14,67.5 18,70 21.5,71.5 L30.2,72.6 L30.2,57 L24,54.3 C19.5,50.5 15.5,47 12.1,44 L12.1,43 L23.8,43 L23.8,36.6 L18,34 C14.4,30 10.4,25 7.3,20.6 L7.9,19.1 L15.2,20.6 L15.2,13.5 L6.7,9.7 C3.5,7 0.5,3.5 -1,0 Z"/>
<path transform="translate(618.50 518.00) scale(0.4500 0.4315)" d="M-1,0 C-2,3.5 -4,7 -7.4,10 L-15.5,13.5 L-15.5,20.8 L-8,19.4 C-11,24.5 -15,30 -18.6,34 L-23.2,36.2 L-23.2,44 L-10.6,42.6 L-10.6,45.4 C-15.5,49.5 -20.5,53.5 -25.7,57 L-29.8,58.2 L-29.8,72.6 L-22.2,72.3 C-18,70 -14,67.5 -10.4,66 L-7.5,66 L-7.5,72.8 L7.4,73 L7.4,66 L10.3,66 C14,67.5 18,70 21.5,71.5 L30.2,72.6 L30.2,57 L24,54.3 C19.5,50.5 15.5,47 12.1,44 L12.1,43 L23.8,43 L23.8,36.6 L18,34 C14.4,30 10.4,25 7.3,20.6 L7.9,19.1 L15.2,20.6 L15.2,13.5 L6.7,9.7 C3.5,7 0.5,3.5 -1,0 Z"/>
<path transform="translate(564.10 492.00) scale(0.9084 0.9602)" d="M0,-0.3 L-1,0.2 L-1.4,2 L-3.2,5.2 L-3.2,10.6 L-3.9,9.5 L-7.6,6.5 L-13.4,3.6 L-18.5,2.5 L-16,3.7 L-12.9,5.5 L-8.7,8.7 L-6,12.4 L-4.2,14.2 L-3.5,17.3 L4.9,17.3 L5.3,14.2 L7.3,11.3 L10.6,7.5 L13.9,4 L17,2.6 L18.6,1.7 L16.5,2.1 L12.9,3.4 L9.7,5.1 L5.5,8.4 L3.2,10.8 L3.2,5.2 L1.4,2 L1,0.2 Z"/>
<path transform="translate(609.30 490.80) scale(0.9488 0.9602)" d="M0,-0.3 L-1,0.2 L-1.4,2 L-3.2,5.2 L-3.2,10.6 L-3.9,9.5 L-7.6,6.5 L-13.4,3.6 L-18.5,2.5 L-16,3.7 L-12.9,5.5 L-8.7,8.7 L-6,12.4 L-4.2,14.2 L-3.5,17.3 L4.9,17.3 L5.3,14.2 L7.3,11.3 L10.6,7.5 L13.9,4 L17,2.6 L18.6,1.7 L16.5,2.1 L12.9,3.4 L9.7,5.1 L5.5,8.4 L3.2,10.8 L3.2,5.2 L1.4,2 L1,0.2 Z"/>
<path transform="translate(655.25 448.80) scale(0.6783 0.6616)" d="M-1,0 C-2,3.5 -4,7 -7.4,10 L-15.5,13.5 L-15.5,20.8 L-8,19.4 C-11,24.5 -15,30 -18.6,34 L-23.2,36.2 L-23.2,44 L-10.6,42.6 L-10.6,45.4 C-15.5,49.5 -20.5,53.5 -25.7,57 L-29.8,58.2 L-29.8,72.6 L-22.2,72.3 C-18,70 -14,67.5 -10.4,66 L-7.5,66 L-7.5,72.8 L7.4,73 L7.4,66 L10.3,66 C14,67.5 18,70 21.5,71.5 L30.2,72.6 L30.2,57 L24,54.3 C19.5,50.5 15.5,47 12.1,44 L12.1,43 L23.8,43 L23.8,36.6 L18,34 C14.4,30 10.4,25 7.3,20.6 L7.9,19.1 L15.2,20.6 L15.2,13.5 L6.7,9.7 C3.5,7 0.5,3.5 -1,0 Z"/>
<path transform="translate(655.25 501.30) scale(0.6783 0.6781)" d="M-1,0 C-2,3.5 -4,7 -7.4,10 L-15.5,13.5 L-15.5,20.8 L-8,19.4 C-11,24.5 -15,30 -18.6,34 L-23.2,36.2 L-23.2,44 L-10.6,42.6 L-10.6,45.4 C-15.5,49.5 -20.5,53.5 -25.7,57 L-29.8,58.2 L-29.8,72.6 L-22.2,72.3 C-18,70 -14,67.5 -10.4,66 L-7.5,66 L-7.5,72.8 L7.4,73 L7.4,66 L10.3,66 C14,67.5 18,70 21.5,71.5 L30.2,72.6 L30.2,57 L24,54.3 C19.5,50.5 15.5,47 12.1,44 L12.1,43 L23.8,43 L23.8,36.6 L18,34 C14.4,30 10.4,25 7.3,20.6 L7.9,19.1 L15.2,20.6 L15.2,13.5 L6.7,9.7 C3.5,7 0.5,3.5 -1,0 Z"/>
<path transform="translate(699.25 449.40) scale(0.6750 0.6534)" d="M-1,0 C-2,3.5 -4,7 -7.4,10 L-15.5,13.5 L-15.5,20.8 L-8,19.4 C-11,24.5 -15,30 -18.6,34 L-23.2,36.2 L-23.2,44 L-10.6,42.6 L-10.6,45.4 C-15.5,49.5 -20.5,53.5 -25.7,57 L-29.8,58.2 L-29.8,72.6 L-22.2,72.3 C-18,70 -14,67.5 -10.4,66 L-7.5,66 L-7.5,72.8 L7.4,73 L7.4,66 L10.3,66 C14,67.5 18,70 21.5,71.5 L30.2,72.6 L30.2,57 L24,54.3 C19.5,50.5 15.5,47 12.1,44 L12.1,43 L23.8,43 L23.8,36.6 L18,34 C14.4,30 10.4,25 7.3,20.6 L7.9,19.1 L15.2,20.6 L15.2,13.5 L6.7,9.7 C3.5,7 0.5,3.5 -1,0 Z"/>
<path transform="translate(699.25 501.80) scale(0.6750 0.6671)" d="M-1,0 C-2,3.5 -4,7 -7.4,10 L-15.5,13.5 L-15.5,20.8 L-8,19.4 C-11,24.5 -15,30 -18.6,34 L-23.2,36.2 L-23.2,44 L-10.6,42.6 L-10.6,45.4 C-15.5,49.5 -20.5,53.5 -25.7,57 L-29.8,58.2 L-29.8,72.6 L-22.2,72.3 C-18,70 -14,67.5 -10.4,66 L-7.5,66 L-7.5,72.8 L7.4,73 L7.4,66 L10.3,66 C14,67.5 18,70 21.5,71.5 L30.2,72.6 L30.2,57 L24,54.3 C19.5,50.5 15.5,47 12.1,44 L12.1,43 L23.8,43 L23.8,36.6 L18,34 C14.4,30 10.4,25 7.3,20.6 L7.9,19.1 L15.2,20.6 L15.2,13.5 L6.7,9.7 C3.5,7 0.5,3.5 -1,0 Z"/>
<path transform="translate(741.65 449.60) scale(0.6717 0.6397)" d="M-1,0 C-2,3.5 -4,7 -7.4,10 L-15.5,13.5 L-15.5,20.8 L-8,19.4 C-11,24.5 -15,30 -18.6,34 L-23.2,36.2 L-23.2,44 L-10.6,42.6 L-10.6,45.4 C-15.5,49.5 -20.5,53.5 -25.7,57 L-29.8,58.2 L-29.8,72.6 L-22.2,72.3 C-18,70 -14,67.5 -10.4,66 L-7.5,66 L-7.5,72.8 L7.4,73 L7.4,66 L10.3,66 C14,67.5 18,70 21.5,71.5 L30.2,72.6 L30.2,57 L24,54.3 C19.5,50.5 15.5,47 12.1,44 L12.1,43 L23.8,43 L23.8,36.6 L18,34 C14.4,30 10.4,25 7.3,20.6 L7.9,19.1 L15.2,20.6 L15.2,13.5 L6.7,9.7 C3.5,7 0.5,3.5 -1,0 Z"/>
<path transform="translate(741.65 501.20) scale(0.6717 0.6671)" d="M-1,0 C-2,3.5 -4,7 -7.4,10 L-15.5,13.5 L-15.5,20.8 L-8,19.4 C-11,24.5 -15,30 -18.6,34 L-23.2,36.2 L-23.2,44 L-10.6,42.6 L-10.6,45.4 C-15.5,49.5 -20.5,53.5 -25.7,57 L-29.8,58.2 L-29.8,72.6 L-22.2,72.3 C-18,70 -14,67.5 -10.4,66 L-7.5,66 L-7.5,72.8 L7.4,73 L7.4,66 L10.3,66 C14,67.5 18,70 21.5,71.5 L30.2,72.6 L30.2,57 L24,54.3 C19.5,50.5 15.5,47 12.1,44 L12.1,43 L23.8,43 L23.8,36.6 L18,34 C14.4,30 10.4,25 7.3,20.6 L7.9,19.1 L15.2,20.6 L15.2,13.5 L6.7,9.7 C3.5,7 0.5,3.5 -1,0 Z"/>
<path transform="translate(785.90 449.20) scale(0.6633 0.6452)" d="M-1,0 C-2,3.5 -4,7 -7.4,10 L-15.5,13.5 L-15.5,20.8 L-8,19.4 C-11,24.5 -15,30 -18.6,34 L-23.2,36.2 L-23.2,44 L-10.6,42.6 L-10.6,45.4 C-15.5,49.5 -20.5,53.5 -25.7,57 L-29.8,58.2 L-29.8,72.6 L-22.2,72.3 C-18,70 -14,67.5 -10.4,66 L-7.5,66 L-7.5,72.8 L7.4,73 L7.4,66 L10.3,66 C14,67.5 18,70 21.5,71.5 L30.2,72.6 L30.2,57 L24,54.3 C19.5,50.5 15.5,47 12.1,44 L12.1,43 L23.8,43 L23.8,36.6 L18,34 C14.4,30 10.4,25 7.3,20.6 L7.9,19.1 L15.2,20.6 L15.2,13.5 L6.7,9.7 C3.5,7 0.5,3.5 -1,0 Z"/>
<path transform="translate(785.90 501.20) scale(0.6633 0.6671)" d="M-1,0 C-2,3.5 -4,7 -7.4,10 L-15.5,13.5 L-15.5,20.8 L-8,19.4 C-11,24.5 -15,30 -18.6,34 L-23.2,36.2 L-23.2,44 L-10.6,42.6 L-10.6,45.4 C-15.5,49.5 -20.5,53.5 -25.7,57 L-29.8,58.2 L-29.8,72.6 L-22.2,72.3 C-18,70 -14,67.5 -10.4,66 L-7.5,66 L-7.5,72.8 L7.4,73 L7.4,66 L10.3,66 C14,67.5 18,70 21.5,71.5 L30.2,72.6 L30.2,57 L24,54.3 C19.5,50.5 15.5,47 12.1,44 L12.1,43 L23.8,43 L23.8,36.6 L18,34 C14.4,30 10.4,25 7.3,20.6 L7.9,19.1 L15.2,20.6 L15.2,13.5 L6.7,9.7 C3.5,7 0.5,3.5 -1,0 Z"/>
<path transform="translate(829.90 449.20) scale(0.6633 0.6438)" d="M-1,0 C-2,3.5 -4,7 -7.4,10 L-15.5,13.5 L-15.5,20.8 L-8,19.4 C-11,24.5 -15,30 -18.6,34 L-23.2,36.2 L-23.2,44 L-10.6,42.6 L-10.6,45.4 C-15.5,49.5 -20.5,53.5 -25.7,57 L-29.8,58.2 L-29.8,72.6 L-22.2,72.3 C-18,70 -14,67.5 -10.4,66 L-7.5,66 L-7.5,72.8 L7.4,73 L7.4,66 L10.3,66 C14,67.5 18,70 21.5,71.5 L30.2,72.6 L30.2,57 L24,54.3 C19.5,50.5 15.5,47 12.1,44 L12.1,43 L23.8,43 L23.8,36.6 L18,34 C14.4,30 10.4,25 7.3,20.6 L7.9,19.1 L15.2,20.6 L15.2,13.5 L6.7,9.7 C3.5,7 0.5,3.5 -1,0 Z"/>
<path transform="translate(829.90 501.20) scale(0.6633 0.6658)" d="M-1,0 C-2,3.5 -4,7 -7.4,10 L-15.5,13.5 L-15.5,20.8 L-8,19.4 C-11,24.5 -15,30 -18.6,34 L-23.2,36.2 L-23.2,44 L-10.6,42.6 L-10.6,45.4 C-15.5,49.5 -20.5,53.5 -25.7,57 L-29.8,58.2 L-29.8,72.6 L-22.2,72.3 C-18,70 -14,67.5 -10.4,66 L-7.5,66 L-7.5,72.8 L7.4,73 L7.4,66 L10.3,66 C14,67.5 18,70 21.5,71.5 L30.2,72.6 L30.2,57 L24,54.3 C19.5,50.5 15.5,47 12.1,44 L12.1,43 L23.8,43 L23.8,36.6 L18,34 C14.4,30 10.4,25 7.3,20.6 L7.9,19.1 L15.2,20.6 L15.2,13.5 L6.7,9.7 C3.5,7 0.5,3.5 -1,0 Z"/>
<path transform="translate(874.25 449.20) scale(0.6583 0.6438)" d="M-1,0 C-2,3.5 -4,7 -7.4,10 L-15.5,13.5 L-15.5,20.8 L-8,19.4 C-11,24.5 -15,30 -18.6,34 L-23.2,36.2 L-23.2,44 L-10.6,42.6 L-10.6,45.4 C-15.5,49.5 -20.5,53.5 -25.7,57 L-29.8,58.2 L-29.8,72.6 L-22.2,72.3 C-18,70 -14,67.5 -10.4,66 L-7.5,66 L-7.5,72.8 L7.4,73 L7.4,66 L10.3,66 C14,67.5 18,70 21.5,71.5 L30.2,72.6 L30.2,57 L24,54.3 C19.5,50.5 15.5,47 12.1,44 L12.1,43 L23.8,43 L23.8,36.6 L18,34 C14.4,30 10.4,25 7.3,20.6 L7.9,19.1 L15.2,20.6 L15.2,13.5 L6.7,9.7 C3.5,7 0.5,3.5 -1,0 Z"/>
<path transform="translate(874.25 501.20) scale(0.6583 0.6658)" d="M-1,0 C-2,3.5 -4,7 -7.4,10 L-15.5,13.5 L-15.5,20.8 L-8,19.4 C-11,24.5 -15,30 -18.6,34 L-23.2,36.2 L-23.2,44 L-10.6,42.6 L-10.6,45.4 C-15.5,49.5 -20.5,53.5 -25.7,57 L-29.8,58.2 L-29.8,72.6 L-22.2,72.3 C-18,70 -14,67.5 -10.4,66 L-7.5,66 L-7.5,72.8 L7.4,73 L7.4,66 L10.3,66 C14,67.5 18,70 21.5,71.5 L30.2,72.6 L30.2,57 L24,54.3 C19.5,50.5 15.5,47 12.1,44 L12.1,43 L23.8,43 L23.8,36.6 L18,34 C14.4,30 10.4,25 7.3,20.6 L7.9,19.1 L15.2,20.6 L15.2,13.5 L6.7,9.7 C3.5,7 0.5,3.5 -1,0 Z"/>
<path d="M8.50,546.0 L12.10,546.0 L12.10,562.2 L8.50,562.2 Z"/>
<path fill="none" stroke="#000" stroke-width="3.6" stroke-linejoin="round" d="M10.3,561.7 Q10.3,570.7 19.3,570.7 L20.0,570.7 L300.0,569.3 L460.0,568.1 L640.0,567.7 L914.0,567.5"/>
<path d="M922.8,567.4 L914.3,562.6 L914.3,572.2 Z"/>
<path fill="none" stroke="#000" stroke-width="3.6" d="M913.0,567.5 L915.3,567.4"/>
<path d="M102.2,569.2 L104.5,564.9 L106.8,569.2 Z"/>
<path d="M188.4,568.6 L190.7,564.3 L193.0,568.6 Z"/>
<path d="M450.7,566.9 L453.0,562.6 L455.3,566.9 Z"/>
<path d="M542.5,566.7 L544.8,562.4 L547.1,566.7 Z"/>
<path d="M631.3,566.5 L633.6,562.2 L635.9,566.5 Z"/>
<path d="M892.5,566.3 L894.8,562.0 L897.1,566.3 Z"/>
<text class="n" x="15.8" y="587.4" font-size="13" textLength="9.4" lengthAdjust="spacingAndGlyphs">0</text>
<text class="n" x="101.2" y="587.4" font-size="13" textLength="8.3" lengthAdjust="spacingAndGlyphs">3</text>
<text class="n" x="186.9" y="587.4" font-size="13" textLength="7.7" lengthAdjust="spacingAndGlyphs">6</text>
<text class="n" x="446.0" y="586.2" font-size="13" textLength="12.8" lengthAdjust="spacingAndGlyphs">14</text>
<text class="n" x="536.4" y="586.2" font-size="13" textLength="15.6" lengthAdjust="spacingAndGlyphs">17</text>
<text class="n" x="621.2" y="586.6" font-size="13" textLength="18.8" lengthAdjust="spacingAndGlyphs">20</text>
<text class="n" x="885.8" y="585.2" font-size="13.5" textLength="16.4" lengthAdjust="spacingAndGlyphs">28</text>
<text class="t" x="9.1" y="609.5" font-size="15" textLength="83.9" lengthAdjust="spacingAndGlyphs">Food crop</text>
<text class="t" x="112.9" y="609.5" font-size="15" textLength="94.9" lengthAdjust="spacingAndGlyphs">Interplanted</text>
<text class="t" x="124.7" y="628.8" font-size="15" textLength="77.3" lengthAdjust="spacingAndGlyphs">food crop</text>
<text class="t" x="282.1" y="607.5" font-size="15" textLength="93.6" lengthAdjust="spacingAndGlyphs">Forest crop</text>
<text class="t" x="443.1" y="607.5" font-size="15" textLength="82.6" lengthAdjust="spacingAndGlyphs">Food crop</text>
<text class="t" x="559.1" y="608.0" font-size="15" textLength="93.9" lengthAdjust="spacingAndGlyphs">Interplanted</text>
<text class="t" x="571.1" y="627.6" font-size="15" textLength="76.9" lengthAdjust="spacingAndGlyphs">food crop</text>
<text class="t" x="724.5" y="607.0" font-size="15" textLength="92.8" lengthAdjust="spacingAndGlyphs">Forest crop</text>
<text class="t" x="295.6" y="665.0" font-size="15" textLength="248.9" lengthAdjust="spacingAndGlyphs">Taungya system (another type)</text>
<text class="t" x="902.5" y="555.4" font-size="16" textLength="45.3" lengthAdjust="spacingAndGlyphs">Years</text>
</svg>
</body>
</html>
